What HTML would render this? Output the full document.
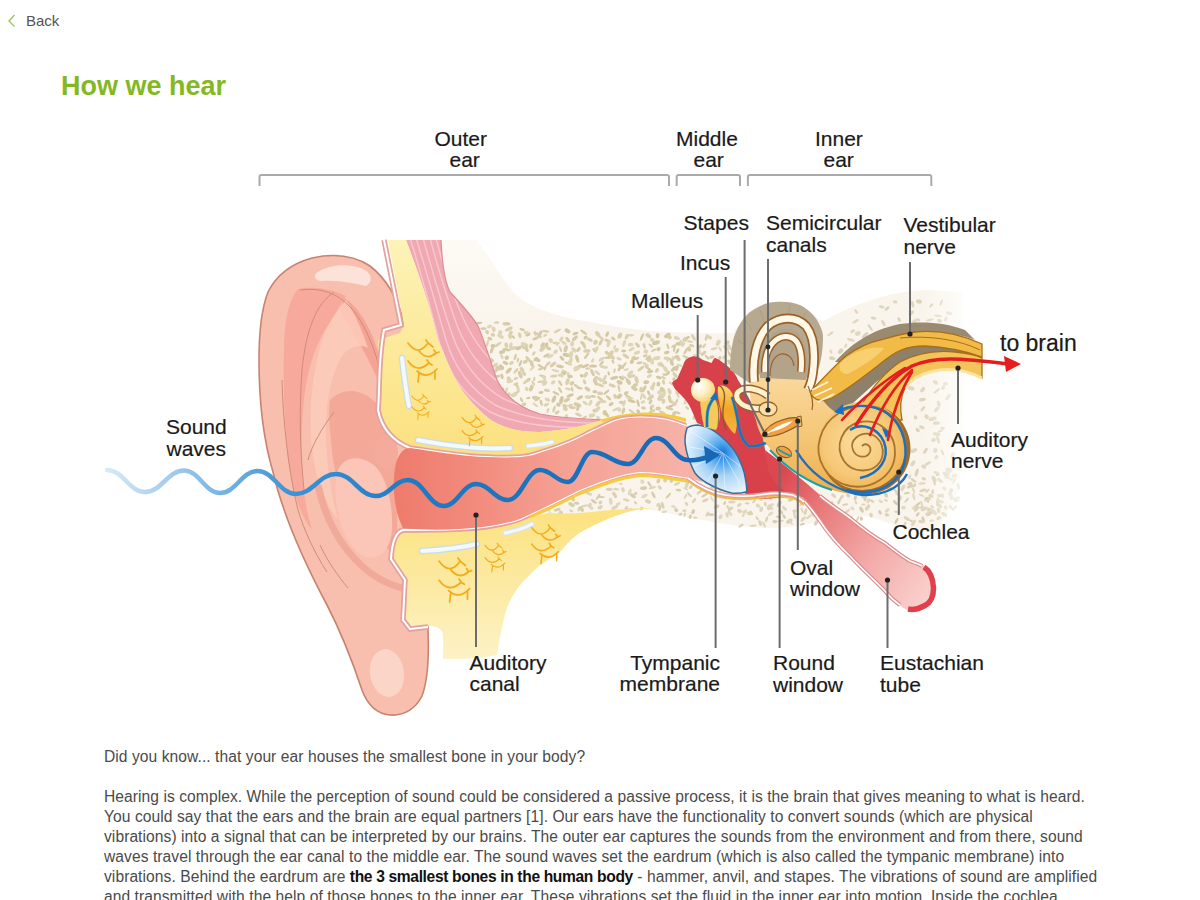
<!DOCTYPE html>
<html><head><meta charset="utf-8"><title>How we hear</title>
<style>
html,body{margin:0;padding:0;background:#fff;width:1200px;height:900px;overflow:hidden}
body{position:relative;font-family:"Liberation Sans",sans-serif}
#back{position:absolute;left:26px;top:12px;font-size:15px;color:#555;line-height:18px}
#chev{position:absolute;left:7px;top:13px}
h1{position:absolute;left:61px;top:69px;margin:0;font-size:27px;font-weight:bold;color:#85b820;line-height:34px;letter-spacing:0}
#art{position:absolute;left:0;top:0}
#txt{position:absolute;left:104px;top:747px;font-size:15.6px;line-height:20px;color:#4a4a4a;white-space:nowrap;letter-spacing:0.065px}
#txt p{margin:0 0 20px 0}
#txt b{color:#111;letter-spacing:-0.35px}
.lb{font-family:"Liberation Sans",sans-serif;font-size:21px;fill:#1a1a1a;stroke:#1a1a1a;stroke-width:0.2px}
</style></head><body>
<svg id="chev" width="10" height="16" viewBox="0 0 10 16"><path d="M7.5 2 L2 8 L7.5 13.5" fill="none" stroke="#a2c260" stroke-width="1.4"/></svg>
<div id="back">Back</div>
<h1>How we hear</h1>
<svg id="art" width="1200" height="900" viewBox="0 0 1200 900">
<defs>
<pattern id="spots" width="34" height="26" patternUnits="userSpaceOnUse" patternTransform="rotate(-15)">
<ellipse cx="4" cy="4" rx="3.6" ry="1.7" fill="#d6c8a2" transform="rotate(30 4 4)"/>
<ellipse cx="15" cy="6" rx="3" ry="1.5" fill="#d8cba6" transform="rotate(-20 15 6)"/>
<ellipse cx="26" cy="4" rx="3.4" ry="1.6" fill="#d4c69f" transform="rotate(50 26 4)"/>
<ellipse cx="9" cy="13" rx="3.2" ry="1.6" fill="#d8caa4" transform="rotate(-40 9 13)"/>
<ellipse cx="21" cy="14" rx="3.8" ry="1.7" fill="#d5c7a0" transform="rotate(15 21 14)"/>
<ellipse cx="31" cy="15" rx="2.6" ry="1.4" fill="#d9cca8" transform="rotate(-60 31 15)"/>
<ellipse cx="4" cy="21" rx="3" ry="1.5" fill="#d6c8a2" transform="rotate(70 4 21)"/>
<ellipse cx="15" cy="22" rx="3.4" ry="1.6" fill="#d8cba6" transform="rotate(10 15 22)"/>
<ellipse cx="27" cy="23" rx="3.2" ry="1.5" fill="#d4c69f" transform="rotate(-30 27 23)"/>
</pattern>
<linearGradient id="canalG" x1="395" x2="690" y1="0" y2="0" gradientUnits="userSpaceOnUse">
<stop offset="0" stop-color="#ee7b6c"/><stop offset="0.3" stop-color="#f28d7f"/><stop offset="0.6" stop-color="#f5a396"/><stop offset="1" stop-color="#f7b2a7"/>
</linearGradient>
<linearGradient id="yelG" x1="0" x2="0" y1="240" y2="460" gradientUnits="userSpaceOnUse">
<stop offset="0" stop-color="#fdf3b6"/><stop offset="1" stop-color="#fbe07e"/>
</linearGradient>
<linearGradient id="yelG2" x1="0" x2="0" y1="520" y2="660" gradientUnits="userSpaceOnUse">
<stop offset="0" stop-color="#fbe384"/><stop offset="1" stop-color="#fdf2c6"/>
</linearGradient>
<radialGradient id="tmG" cx="0.61" cy="0.41" r="0.62">
<stop offset="0" stop-color="#1474d6"/><stop offset="0.22" stop-color="#4aa2ee"/><stop offset="0.55" stop-color="#a8d4f6"/><stop offset="1" stop-color="#e6f3fd"/>
</radialGradient>
<linearGradient id="tubeG" x1="775" x2="930" y1="485" y2="600" gradientUnits="userSpaceOnUse">
<stop offset="0" stop-color="#dc4850"/><stop offset="0.25" stop-color="#e87878"/><stop offset="0.6" stop-color="#f3a8a6"/><stop offset="1" stop-color="#fad2ce"/>
</linearGradient>
<radialGradient id="cochG" cx="0.45" cy="0.45" r="0.6">
<stop offset="0" stop-color="#fbdc9c"/><stop offset="0.65" stop-color="#f6c878"/><stop offset="1" stop-color="#eeb04c"/>
</radialGradient>
<linearGradient id="waveG" x1="105" x2="720" y1="0" y2="0" gradientUnits="userSpaceOnUse">
<stop offset="0" stop-color="#d8eaf7"/><stop offset="0.12" stop-color="#9cc8ec"/><stop offset="0.3" stop-color="#3d94d6"/><stop offset="0.5" stop-color="#1f7ac4"/><stop offset="1" stop-color="#1767b4"/>
</linearGradient>
<linearGradient id="rbFade" x1="925" x2="975" y1="0" y2="0" gradientUnits="userSpaceOnUse">
<stop offset="0" stop-color="#fff" stop-opacity="0"/><stop offset="1" stop-color="#fff" stop-opacity="1"/>
</linearGradient>
<linearGradient id="boneTopG" x1="0" x2="0" y1="240" y2="340" gradientUnits="userSpaceOnUse">
<stop offset="0" stop-color="#fdfaf5"/><stop offset="1" stop-color="#f9f3ea"/>
</linearGradient>
<clipPath id="muscleClip"><path id="musP" d="M406 240 L441 240 C442 262 444 280 450 292 C462 305 472 316 478 326 C484 340 490 360 497 380 C505 396 520 408 540 414 C560 418 585 419 602 420 C590 424 570 430 540 432 C515 432 498 426 488 418 C472 404 462 392 456 380 C448 365 443 350 438 340 C430 305 418 272 406 240 Z"/></clipPath>
</defs>

<!-- pinna (behind head structures) -->
<path d="M404 322 C398 300 388 280 370 266 C355 256 335 253 312 258 C290 264 276 276 268 292 C261 310 259 335 259 360 C259 395 262 435 273 472 C283 515 303 560 327 605 C341 632 352 660 362 690 C368 706 378 714 390 715 C405 716 416 708 422 696 C428 680 429 655 428 630 L428 560 L410 470 L410 380 Z" fill="#f9bfae" stroke="#c8836e" stroke-width="1.6"/>
<!-- scapha + fossa darker band -->
<path d="M298 289 C312 286 330 288 346 296 C340 306 332 318 324 332 C316 346 310 362 306 385 C302 410 301 440 302 470 C303 490 306 510 312 530 C300 515 292 490 288 460 C284 420 283 380 284 345 C285 318 289 300 298 289 Z" fill="#f7a99c"/>
<!-- crus stripe -->
<path d="M344 298 C356 305 366 320 374 340 C380 356 384 375 385 395 C378 380 370 362 362 348 C354 334 346 322 340 312 Z" fill="#f4a394"/>
<!-- antihelix light ridge -->
<path d="M324 334 C332 318 340 308 346 300 C354 312 362 330 368 348 C360 344 350 346 342 356 C332 372 326 400 326 430 C326 460 330 490 338 520 C326 505 316 480 312 450 C308 415 312 370 324 334 Z" fill="#fdcbbb" opacity="0.85"/>
<!-- concha darker -->
<path d="M330 400 C345 385 365 390 378 405 C392 420 398 445 398 470 C398 500 396 530 398 560 C385 545 370 530 356 515 C342 498 334 475 332 450 C330 430 328 415 330 400 Z" fill="#f4a898"/>
<!-- concha bowl light -->
<path d="M338 470 C345 455 362 455 375 466 C388 480 393 505 392 530 C390 552 378 562 364 556 C348 548 338 525 336 500 C335 488 336 478 338 470 Z" fill="#fbc6b7"/>
<!-- antitragus crease -->
<path d="M318 485 C325 520 342 548 362 566 C375 578 390 586 410 590" fill="none" stroke="#eea292" stroke-width="7" opacity="0.75"/>
<!-- tragus bump -->
<ellipse cx="386" cy="452" rx="12" ry="16" fill="#f5ab9c"/>
<!-- rim lines -->
<g fill="none" stroke="#d28c78" stroke-width="1">
<path d="M334 292 C316 304 306 330 302 370 C299 410 300 450 304 490"/>
<path d="M300 290 C344 284 362 318 374 350 C382 372 384 395 383 415"/>
<path d="M282 380 C283 420 288 470 298 510 C304 530 314 552 327 572"/>
<path d="M334 412 C322 428 312 445 308 460"/>
<path d="M320 545 C328 562 338 576 348 588"/>
</g>
<!-- top highlight -->
<path d="M318 272 C330 264 350 263 365 270 C372 274 373 282 366 286 C350 282 334 280 320 281 C314 279 313 275 318 272 Z" fill="#fde2d9"/>
<ellipse cx="387" cy="673" rx="17" ry="24" fill="#fcd5c9" transform="rotate(-8 387 673)"/>

<!-- pale bone base -->
<path d="M420 240 L476 240 C484 250 492 262 500 274 C507 285 515 296 530 305 C545 312 565 318 590 322 C615 327 630 329 650 331 C690 333 715 334 732 333
 C745 318 760 304 782 302 C800 304 815 314 822 322 C850 306 885 292 925 290 L962 292 L965 360 L962 470
 C958 500 948 520 930 532 C900 532 880 516 860 516 C830 518 800 528 770 528 C740 528 715 522 690 518 C670 514 650 508 636 510 C615 515 598 522 578 534
 C560 548 548 556 538 566 L520 470 L440 400 Z" fill="#faf5ec"/>
<path d="M420 240 L476 240 C484 250 492 262 500 274 C507 285 515 296 530 305 C545 312 565 318 590 322 C615 327 630 329 650 331 L650 345 L440 345 Z" fill="url(#boneTopG)"/>
<!-- spotted areas -->
<g>
<ellipse cx="478.4" cy="323.1" rx="3.9" ry="1.2" transform="rotate(-8 478.4 323.1)" fill="#d4c8a3"/>
<ellipse cx="489.5" cy="326.5" rx="2.8" ry="1.5" transform="rotate(-23 489.5 326.5)" fill="#ded4b6"/>
<ellipse cx="496.5" cy="322.5" rx="2.7" ry="1.3" transform="rotate(-2 496.5 322.5)" fill="#dbd0ae"/>
<ellipse cx="506.5" cy="323.8" rx="4.1" ry="1.8" transform="rotate(2 506.5 323.8)" fill="#d7cba8"/>
<ellipse cx="483.4" cy="328.7" rx="3.1" ry="1.4" transform="rotate(-3 483.4 328.7)" fill="#d7cba8"/>
<ellipse cx="487.1" cy="332.1" rx="2.4" ry="1.8" transform="rotate(66 487.1 332.1)" fill="#dbd0ae"/>
<ellipse cx="493.7" cy="329.3" rx="2.9" ry="1.9" transform="rotate(75 493.7 329.3)" fill="#ded4b6"/>
<ellipse cx="500.2" cy="332.6" rx="2.5" ry="2.1" transform="rotate(-76 500.2 332.6)" fill="#ded4b6"/>
<ellipse cx="508.8" cy="329.1" rx="4.2" ry="1.8" transform="rotate(-24 508.8 329.1)" fill="#dbd0ae"/>
<ellipse cx="510.8" cy="333.0" rx="2.4" ry="1.8" transform="rotate(-58 510.8 333.0)" fill="#dbd0ae"/>
<ellipse cx="522.1" cy="329.5" rx="2.8" ry="1.3" transform="rotate(14 522.1 329.5)" fill="#d4c8a3"/>
<ellipse cx="527.1" cy="333.2" rx="3.7" ry="2.0" transform="rotate(26 527.1 333.2)" fill="#ded4b6"/>
<ellipse cx="535.3" cy="333.4" rx="2.5" ry="1.6" transform="rotate(60 535.3 333.4)" fill="#dbd0ae"/>
<ellipse cx="540.6" cy="332.8" rx="2.5" ry="1.7" transform="rotate(-61 540.6 332.8)" fill="#d7cba8"/>
<ellipse cx="545.6" cy="331.3" rx="3.8" ry="1.2" transform="rotate(10 545.6 331.3)" fill="#dbd0ae"/>
<ellipse cx="557.4" cy="330.9" rx="4.0" ry="1.2" transform="rotate(-28 557.4 330.9)" fill="#dbd0ae"/>
<ellipse cx="567.5" cy="330.9" rx="3.2" ry="2.0" transform="rotate(32 567.5 330.9)" fill="#d4c8a3"/>
<ellipse cx="575.5" cy="333.5" rx="3.1" ry="1.5" transform="rotate(-17 575.5 333.5)" fill="#d4c8a3"/>
<ellipse cx="583.7" cy="332.2" rx="4.0" ry="1.3" transform="rotate(35 583.7 332.2)" fill="#d4c8a3"/>
<ellipse cx="597.7" cy="333.9" rx="3.2" ry="2.1" transform="rotate(53 597.7 333.9)" fill="#dbd0ae"/>
<ellipse cx="607.2" cy="334.1" rx="3.0" ry="1.5" transform="rotate(-65 607.2 334.1)" fill="#d4c8a3"/>
<ellipse cx="478.4" cy="338.0" rx="2.4" ry="1.3" transform="rotate(-72 478.4 338.0)" fill="#dbd0ae"/>
<ellipse cx="489.8" cy="338.6" rx="2.6" ry="1.5" transform="rotate(28 489.8 338.6)" fill="#d4c8a3"/>
<ellipse cx="492.9" cy="334.9" rx="2.2" ry="1.8" transform="rotate(8 492.9 334.9)" fill="#dbd0ae"/>
<ellipse cx="500.5" cy="336.3" rx="3.5" ry="1.8" transform="rotate(25 500.5 336.3)" fill="#ded4b6"/>
<ellipse cx="509.8" cy="336.7" rx="2.7" ry="1.3" transform="rotate(61 509.8 336.7)" fill="#dbd0ae"/>
<ellipse cx="513.0" cy="336.9" rx="2.5" ry="1.2" transform="rotate(39 513.0 336.9)" fill="#d4c8a3"/>
<ellipse cx="519.8" cy="335.2" rx="3.0" ry="1.6" transform="rotate(75 519.8 335.2)" fill="#dbd0ae"/>
<ellipse cx="527.9" cy="335.1" rx="2.7" ry="1.1" transform="rotate(-22 527.9 335.1)" fill="#d4c8a3"/>
<ellipse cx="536.2" cy="338.1" rx="4.1" ry="1.4" transform="rotate(-23 536.2 338.1)" fill="#d7cba8"/>
<ellipse cx="539.0" cy="335.3" rx="3.5" ry="1.3" transform="rotate(44 539.0 335.3)" fill="#d7cba8"/>
<ellipse cx="545.2" cy="335.4" rx="2.3" ry="1.1" transform="rotate(-31 545.2 335.4)" fill="#dbd0ae"/>
<ellipse cx="550.7" cy="340.5" rx="2.5" ry="2.0" transform="rotate(45 550.7 340.5)" fill="#ded4b6"/>
<ellipse cx="561.4" cy="339.1" rx="2.8" ry="1.7" transform="rotate(-57 561.4 339.1)" fill="#ded4b6"/>
<ellipse cx="567.8" cy="339.7" rx="3.2" ry="1.6" transform="rotate(54 567.8 339.7)" fill="#d7cba8"/>
<ellipse cx="574.9" cy="338.3" rx="3.6" ry="1.8" transform="rotate(-43 574.9 338.3)" fill="#d7cba8"/>
<ellipse cx="585.5" cy="337.5" rx="2.2" ry="1.6" transform="rotate(-41 585.5 337.5)" fill="#d4c8a3"/>
<ellipse cx="589.8" cy="339.6" rx="3.2" ry="1.6" transform="rotate(25 589.8 339.6)" fill="#d7cba8"/>
<ellipse cx="600.9" cy="337.6" rx="3.9" ry="1.3" transform="rotate(41 600.9 337.6)" fill="#dbd0ae"/>
<ellipse cx="607.4" cy="340.6" rx="3.0" ry="1.6" transform="rotate(29 607.4 340.6)" fill="#d7cba8"/>
<ellipse cx="613.3" cy="338.6" rx="2.5" ry="1.4" transform="rotate(39 613.3 338.6)" fill="#d4c8a3"/>
<ellipse cx="619.9" cy="335.6" rx="3.2" ry="2.1" transform="rotate(-64 619.9 335.6)" fill="#dbd0ae"/>
<ellipse cx="626.8" cy="336.6" rx="3.1" ry="1.6" transform="rotate(-61 626.8 336.6)" fill="#dbd0ae"/>
<ellipse cx="631.3" cy="335.3" rx="2.8" ry="1.2" transform="rotate(1 631.3 335.3)" fill="#ded4b6"/>
<ellipse cx="641.9" cy="337.1" rx="4.1" ry="1.2" transform="rotate(-66 641.9 337.1)" fill="#d4c8a3"/>
<ellipse cx="648.3" cy="335.6" rx="3.2" ry="2.0" transform="rotate(33 648.3 335.6)" fill="#dbd0ae"/>
<ellipse cx="652.2" cy="340.0" rx="2.5" ry="2.0" transform="rotate(29 652.2 340.0)" fill="#ded4b6"/>
<ellipse cx="657.6" cy="335.7" rx="2.8" ry="1.9" transform="rotate(-80 657.6 335.7)" fill="#d4c8a3"/>
<ellipse cx="667.4" cy="335.5" rx="3.6" ry="2.0" transform="rotate(-34 667.4 335.5)" fill="#d4c8a3"/>
<ellipse cx="669.4" cy="337.1" rx="2.4" ry="2.0" transform="rotate(41 669.4 337.1)" fill="#d7cba8"/>
<ellipse cx="686.2" cy="338.6" rx="4.1" ry="1.5" transform="rotate(-30 686.2 338.6)" fill="#d4c8a3"/>
<ellipse cx="693.5" cy="337.4" rx="3.7" ry="1.5" transform="rotate(60 693.5 337.4)" fill="#dbd0ae"/>
<ellipse cx="706.4" cy="337.5" rx="3.5" ry="1.4" transform="rotate(-72 706.4 337.5)" fill="#dbd0ae"/>
<ellipse cx="709.6" cy="337.3" rx="2.7" ry="1.8" transform="rotate(24 709.6 337.3)" fill="#ded4b6"/>
<ellipse cx="483.0" cy="347.3" rx="2.5" ry="1.3" transform="rotate(-65 483.0 347.3)" fill="#d4c8a3"/>
<ellipse cx="487.5" cy="343.3" rx="3.8" ry="1.3" transform="rotate(-77 487.5 343.3)" fill="#ded4b6"/>
<ellipse cx="493.1" cy="345.9" rx="2.7" ry="1.9" transform="rotate(-0 493.1 345.9)" fill="#d4c8a3"/>
<ellipse cx="498.2" cy="344.4" rx="3.9" ry="1.3" transform="rotate(-37 498.2 344.4)" fill="#dbd0ae"/>
<ellipse cx="506.3" cy="345.3" rx="2.8" ry="1.9" transform="rotate(75 506.3 345.3)" fill="#dbd0ae"/>
<ellipse cx="510.8" cy="345.6" rx="3.1" ry="1.7" transform="rotate(-80 510.8 345.6)" fill="#ded4b6"/>
<ellipse cx="522.8" cy="346.9" rx="3.1" ry="1.5" transform="rotate(45 522.8 346.9)" fill="#dbd0ae"/>
<ellipse cx="524.7" cy="344.5" rx="4.1" ry="1.8" transform="rotate(24 524.7 344.5)" fill="#ded4b6"/>
<ellipse cx="530.9" cy="346.0" rx="2.5" ry="1.7" transform="rotate(-74 530.9 346.0)" fill="#d4c8a3"/>
<ellipse cx="542.7" cy="345.2" rx="3.1" ry="1.9" transform="rotate(-64 542.7 345.2)" fill="#d4c8a3"/>
<ellipse cx="546.7" cy="344.9" rx="2.6" ry="1.7" transform="rotate(-78 546.7 344.9)" fill="#d4c8a3"/>
<ellipse cx="556.1" cy="343.1" rx="3.9" ry="1.3" transform="rotate(4 556.1 343.1)" fill="#dbd0ae"/>
<ellipse cx="557.0" cy="343.9" rx="2.3" ry="1.3" transform="rotate(62 557.0 343.9)" fill="#ded4b6"/>
<ellipse cx="563.9" cy="342.8" rx="2.9" ry="1.6" transform="rotate(31 563.9 342.8)" fill="#ded4b6"/>
<ellipse cx="572.2" cy="343.8" rx="2.8" ry="1.9" transform="rotate(-69 572.2 343.8)" fill="#ded4b6"/>
<ellipse cx="582.4" cy="343.3" rx="2.7" ry="1.3" transform="rotate(42 582.4 343.3)" fill="#d4c8a3"/>
<ellipse cx="583.9" cy="345.1" rx="4.0" ry="1.6" transform="rotate(66 583.9 345.1)" fill="#d7cba8"/>
<ellipse cx="595.5" cy="342.3" rx="2.6" ry="2.1" transform="rotate(-57 595.5 342.3)" fill="#d7cba8"/>
<ellipse cx="600.6" cy="342.5" rx="3.6" ry="1.4" transform="rotate(-62 600.6 342.5)" fill="#d7cba8"/>
<ellipse cx="608.6" cy="343.4" rx="4.1" ry="1.8" transform="rotate(-75 608.6 343.4)" fill="#ded4b6"/>
<ellipse cx="614.6" cy="347.3" rx="2.4" ry="1.2" transform="rotate(-67 614.6 347.3)" fill="#ded4b6"/>
<ellipse cx="624.1" cy="343.5" rx="3.8" ry="1.5" transform="rotate(-72 624.1 343.5)" fill="#ded4b6"/>
<ellipse cx="630.6" cy="344.6" rx="2.8" ry="1.8" transform="rotate(-4 630.6 344.6)" fill="#ded4b6"/>
<ellipse cx="637.5" cy="345.1" rx="3.0" ry="1.6" transform="rotate(49 637.5 345.1)" fill="#d7cba8"/>
<ellipse cx="644.2" cy="345.9" rx="2.9" ry="1.4" transform="rotate(73 644.2 345.9)" fill="#d7cba8"/>
<ellipse cx="650.8" cy="345.7" rx="2.8" ry="1.1" transform="rotate(41 650.8 345.7)" fill="#d7cba8"/>
<ellipse cx="656.0" cy="342.8" rx="4.1" ry="2.1" transform="rotate(-18 656.0 342.8)" fill="#d4c8a3"/>
<ellipse cx="667.9" cy="346.3" rx="3.2" ry="1.1" transform="rotate(69 667.9 346.3)" fill="#d4c8a3"/>
<ellipse cx="673.9" cy="346.0" rx="2.9" ry="1.4" transform="rotate(-22 673.9 346.0)" fill="#d7cba8"/>
<ellipse cx="678.7" cy="343.8" rx="3.0" ry="1.7" transform="rotate(-3 678.7 343.8)" fill="#d4c8a3"/>
<ellipse cx="683.2" cy="344.0" rx="2.3" ry="1.7" transform="rotate(-47 683.2 344.0)" fill="#ded4b6"/>
<ellipse cx="691.8" cy="345.6" rx="2.7" ry="1.5" transform="rotate(19 691.8 345.6)" fill="#dbd0ae"/>
<ellipse cx="699.9" cy="346.5" rx="2.4" ry="1.9" transform="rotate(-33 699.9 346.5)" fill="#d4c8a3"/>
<ellipse cx="704.2" cy="345.8" rx="2.7" ry="1.3" transform="rotate(-55 704.2 345.8)" fill="#dbd0ae"/>
<ellipse cx="718.2" cy="342.8" rx="3.5" ry="2.1" transform="rotate(-64 718.2 342.8)" fill="#ded4b6"/>
<ellipse cx="727.1" cy="342.8" rx="2.9" ry="2.0" transform="rotate(-43 727.1 342.8)" fill="#d7cba8"/>
<ellipse cx="729.6" cy="347.2" rx="4.1" ry="1.5" transform="rotate(59 729.6 347.2)" fill="#ded4b6"/>
<ellipse cx="481.4" cy="352.2" rx="2.3" ry="1.4" transform="rotate(-73 481.4 352.2)" fill="#d4c8a3"/>
<ellipse cx="484.5" cy="352.4" rx="3.8" ry="1.9" transform="rotate(-15 484.5 352.4)" fill="#d4c8a3"/>
<ellipse cx="491.9" cy="349.9" rx="3.8" ry="1.6" transform="rotate(-70 491.9 349.9)" fill="#d7cba8"/>
<ellipse cx="502.2" cy="352.0" rx="3.3" ry="1.8" transform="rotate(-16 502.2 352.0)" fill="#d4c8a3"/>
<ellipse cx="506.5" cy="349.7" rx="4.1" ry="1.4" transform="rotate(11 506.5 349.7)" fill="#d4c8a3"/>
<ellipse cx="513.1" cy="348.1" rx="3.8" ry="1.7" transform="rotate(-17 513.1 348.1)" fill="#ded4b6"/>
<ellipse cx="518.4" cy="348.1" rx="3.0" ry="1.9" transform="rotate(-15 518.4 348.1)" fill="#d4c8a3"/>
<ellipse cx="526.6" cy="349.0" rx="3.3" ry="1.7" transform="rotate(66 526.6 349.0)" fill="#d7cba8"/>
<ellipse cx="533.8" cy="353.5" rx="2.5" ry="1.4" transform="rotate(-54 533.8 353.5)" fill="#dbd0ae"/>
<ellipse cx="542.5" cy="348.7" rx="3.8" ry="2.1" transform="rotate(-48 542.5 348.7)" fill="#dbd0ae"/>
<ellipse cx="548.6" cy="348.3" rx="2.8" ry="1.7" transform="rotate(22 548.6 348.3)" fill="#d7cba8"/>
<ellipse cx="555.6" cy="351.7" rx="2.5" ry="1.9" transform="rotate(-44 555.6 351.7)" fill="#ded4b6"/>
<ellipse cx="560.5" cy="349.2" rx="3.3" ry="1.1" transform="rotate(70 560.5 349.2)" fill="#dbd0ae"/>
<ellipse cx="565.7" cy="348.8" rx="3.6" ry="2.0" transform="rotate(-73 565.7 348.8)" fill="#d7cba8"/>
<ellipse cx="574.0" cy="350.0" rx="3.1" ry="1.9" transform="rotate(44 574.0 350.0)" fill="#ded4b6"/>
<ellipse cx="578.5" cy="349.5" rx="2.9" ry="1.6" transform="rotate(-51 578.5 349.5)" fill="#d7cba8"/>
<ellipse cx="586.9" cy="350.9" rx="3.7" ry="1.9" transform="rotate(-7 586.9 350.9)" fill="#dbd0ae"/>
<ellipse cx="594.6" cy="350.4" rx="2.9" ry="1.5" transform="rotate(48 594.6 350.4)" fill="#d7cba8"/>
<ellipse cx="596.7" cy="348.8" rx="2.8" ry="1.8" transform="rotate(-67 596.7 348.8)" fill="#ded4b6"/>
<ellipse cx="606.9" cy="352.7" rx="2.3" ry="1.7" transform="rotate(31 606.9 352.7)" fill="#d7cba8"/>
<ellipse cx="610.8" cy="353.9" rx="4.1" ry="2.0" transform="rotate(-54 610.8 353.9)" fill="#dbd0ae"/>
<ellipse cx="616.6" cy="350.1" rx="2.5" ry="2.0" transform="rotate(-36 616.6 350.1)" fill="#ded4b6"/>
<ellipse cx="623.7" cy="351.0" rx="2.6" ry="1.4" transform="rotate(1 623.7 351.0)" fill="#d4c8a3"/>
<ellipse cx="631.6" cy="349.2" rx="3.5" ry="1.4" transform="rotate(-28 631.6 349.2)" fill="#ded4b6"/>
<ellipse cx="637.0" cy="352.7" rx="3.3" ry="1.7" transform="rotate(-22 637.0 352.7)" fill="#ded4b6"/>
<ellipse cx="645.9" cy="351.5" rx="2.4" ry="2.1" transform="rotate(21 645.9 351.5)" fill="#ded4b6"/>
<ellipse cx="653.6" cy="350.2" rx="2.9" ry="1.2" transform="rotate(-27 653.6 350.2)" fill="#d7cba8"/>
<ellipse cx="658.5" cy="349.1" rx="2.3" ry="1.9" transform="rotate(-39 658.5 349.1)" fill="#d4c8a3"/>
<ellipse cx="666.8" cy="352.5" rx="2.8" ry="1.7" transform="rotate(-13 666.8 352.5)" fill="#d4c8a3"/>
<ellipse cx="674.3" cy="348.8" rx="3.5" ry="1.1" transform="rotate(-80 674.3 348.8)" fill="#d4c8a3"/>
<ellipse cx="677.4" cy="351.1" rx="3.0" ry="1.4" transform="rotate(-59 677.4 351.1)" fill="#d4c8a3"/>
<ellipse cx="685.9" cy="350.9" rx="4.1" ry="1.3" transform="rotate(-56 685.9 350.9)" fill="#d7cba8"/>
<ellipse cx="689.2" cy="348.9" rx="2.7" ry="1.9" transform="rotate(75 689.2 348.9)" fill="#d7cba8"/>
<ellipse cx="699.3" cy="351.4" rx="3.5" ry="1.5" transform="rotate(70 699.3 351.4)" fill="#ded4b6"/>
<ellipse cx="703.5" cy="353.4" rx="3.3" ry="1.5" transform="rotate(-42 703.5 353.4)" fill="#d7cba8"/>
<ellipse cx="714.0" cy="348.7" rx="3.5" ry="1.3" transform="rotate(-14 714.0 348.7)" fill="#ded4b6"/>
<ellipse cx="720.1" cy="349.1" rx="2.8" ry="1.1" transform="rotate(62 720.1 349.1)" fill="#ded4b6"/>
<ellipse cx="726.1" cy="348.1" rx="3.7" ry="1.6" transform="rotate(39 726.1 348.1)" fill="#ded4b6"/>
<ellipse cx="729.5" cy="353.9" rx="3.5" ry="1.2" transform="rotate(63 729.5 353.9)" fill="#d4c8a3"/>
<ellipse cx="492.1" cy="359.9" rx="2.7" ry="1.3" transform="rotate(39 492.1 359.9)" fill="#dbd0ae"/>
<ellipse cx="501.9" cy="356.6" rx="2.9" ry="1.3" transform="rotate(65 501.9 356.6)" fill="#ded4b6"/>
<ellipse cx="506.8" cy="357.8" rx="2.3" ry="2.1" transform="rotate(-43 506.8 357.8)" fill="#d4c8a3"/>
<ellipse cx="515.3" cy="357.0" rx="3.3" ry="1.3" transform="rotate(-75 515.3 357.0)" fill="#d7cba8"/>
<ellipse cx="517.9" cy="360.1" rx="2.5" ry="1.1" transform="rotate(-73 517.9 360.1)" fill="#d7cba8"/>
<ellipse cx="528.0" cy="359.0" rx="3.4" ry="1.5" transform="rotate(51 528.0 359.0)" fill="#d7cba8"/>
<ellipse cx="535.7" cy="359.1" rx="3.0" ry="1.3" transform="rotate(-47 535.7 359.1)" fill="#d7cba8"/>
<ellipse cx="537.2" cy="359.7" rx="3.5" ry="1.9" transform="rotate(21 537.2 359.7)" fill="#d4c8a3"/>
<ellipse cx="546.5" cy="355.4" rx="3.5" ry="1.4" transform="rotate(-26 546.5 355.4)" fill="#d4c8a3"/>
<ellipse cx="550.4" cy="356.2" rx="3.6" ry="1.5" transform="rotate(-29 550.4 356.2)" fill="#ded4b6"/>
<ellipse cx="561.9" cy="358.3" rx="3.0" ry="1.5" transform="rotate(44 561.9 358.3)" fill="#d4c8a3"/>
<ellipse cx="566.2" cy="354.9" rx="3.6" ry="1.9" transform="rotate(12 566.2 354.9)" fill="#d4c8a3"/>
<ellipse cx="571.0" cy="354.6" rx="3.7" ry="2.1" transform="rotate(-79 571.0 354.6)" fill="#ded4b6"/>
<ellipse cx="577.2" cy="358.8" rx="4.1" ry="1.7" transform="rotate(73 577.2 358.8)" fill="#d4c8a3"/>
<ellipse cx="586.7" cy="355.6" rx="4.1" ry="1.3" transform="rotate(-53 586.7 355.6)" fill="#d7cba8"/>
<ellipse cx="592.7" cy="360.5" rx="2.4" ry="1.4" transform="rotate(-65 592.7 360.5)" fill="#ded4b6"/>
<ellipse cx="601.7" cy="359.1" rx="3.5" ry="1.5" transform="rotate(-31 601.7 359.1)" fill="#ded4b6"/>
<ellipse cx="608.4" cy="357.6" rx="4.0" ry="1.3" transform="rotate(-6 608.4 357.6)" fill="#d7cba8"/>
<ellipse cx="611.7" cy="356.6" rx="3.9" ry="1.8" transform="rotate(39 611.7 356.6)" fill="#dbd0ae"/>
<ellipse cx="619.0" cy="358.7" rx="2.7" ry="1.4" transform="rotate(23 619.0 358.7)" fill="#dbd0ae"/>
<ellipse cx="625.8" cy="356.2" rx="3.9" ry="1.7" transform="rotate(36 625.8 356.2)" fill="#dbd0ae"/>
<ellipse cx="633.7" cy="358.2" rx="2.7" ry="2.1" transform="rotate(-39 633.7 358.2)" fill="#d7cba8"/>
<ellipse cx="637.0" cy="358.5" rx="2.5" ry="1.2" transform="rotate(-32 637.0 358.5)" fill="#d4c8a3"/>
<ellipse cx="645.2" cy="355.8" rx="2.4" ry="1.3" transform="rotate(-18 645.2 355.8)" fill="#d7cba8"/>
<ellipse cx="649.3" cy="359.7" rx="2.6" ry="2.1" transform="rotate(-33 649.3 359.7)" fill="#d7cba8"/>
<ellipse cx="656.7" cy="358.2" rx="3.7" ry="2.0" transform="rotate(-11 656.7 358.2)" fill="#ded4b6"/>
<ellipse cx="667.5" cy="358.6" rx="4.0" ry="1.7" transform="rotate(13 667.5 358.6)" fill="#dbd0ae"/>
<ellipse cx="673.1" cy="358.4" rx="2.8" ry="1.7" transform="rotate(-64 673.1 358.4)" fill="#ded4b6"/>
<ellipse cx="677.1" cy="357.0" rx="2.5" ry="1.9" transform="rotate(-3 677.1 357.0)" fill="#d7cba8"/>
<ellipse cx="685.9" cy="357.1" rx="4.1" ry="1.3" transform="rotate(25 685.9 357.1)" fill="#d7cba8"/>
<ellipse cx="695.7" cy="357.9" rx="3.8" ry="2.0" transform="rotate(3 695.7 357.9)" fill="#d7cba8"/>
<ellipse cx="707.1" cy="357.3" rx="3.2" ry="1.1" transform="rotate(47 707.1 357.3)" fill="#d4c8a3"/>
<ellipse cx="711.7" cy="357.1" rx="2.6" ry="1.8" transform="rotate(-17 711.7 357.1)" fill="#d7cba8"/>
<ellipse cx="719.6" cy="358.3" rx="2.7" ry="1.5" transform="rotate(-70 719.6 358.3)" fill="#d7cba8"/>
<ellipse cx="724.3" cy="357.1" rx="2.9" ry="1.4" transform="rotate(-44 724.3 357.1)" fill="#ded4b6"/>
<ellipse cx="734.0" cy="357.8" rx="3.8" ry="1.5" transform="rotate(-46 734.0 357.8)" fill="#dbd0ae"/>
<ellipse cx="489.1" cy="362.1" rx="3.9" ry="1.9" transform="rotate(-14 489.1 362.1)" fill="#d4c8a3"/>
<ellipse cx="495.3" cy="365.1" rx="3.1" ry="1.9" transform="rotate(-43 495.3 365.1)" fill="#ded4b6"/>
<ellipse cx="501.5" cy="367.1" rx="3.2" ry="1.9" transform="rotate(48 501.5 367.1)" fill="#d4c8a3"/>
<ellipse cx="505.5" cy="363.0" rx="3.1" ry="1.7" transform="rotate(25 505.5 363.0)" fill="#d4c8a3"/>
<ellipse cx="511.5" cy="363.0" rx="2.4" ry="1.7" transform="rotate(-28 511.5 363.0)" fill="#dbd0ae"/>
<ellipse cx="520.4" cy="363.3" rx="3.5" ry="1.3" transform="rotate(-68 520.4 363.3)" fill="#d4c8a3"/>
<ellipse cx="525.3" cy="361.8" rx="2.7" ry="1.9" transform="rotate(-25 525.3 361.8)" fill="#dbd0ae"/>
<ellipse cx="531.7" cy="363.6" rx="3.4" ry="1.8" transform="rotate(76 531.7 363.6)" fill="#d7cba8"/>
<ellipse cx="541.0" cy="366.5" rx="3.9" ry="1.3" transform="rotate(31 541.0 366.5)" fill="#d7cba8"/>
<ellipse cx="548.0" cy="363.8" rx="3.3" ry="1.4" transform="rotate(-43 548.0 363.8)" fill="#dbd0ae"/>
<ellipse cx="553.0" cy="364.5" rx="4.0" ry="1.8" transform="rotate(-41 553.0 364.5)" fill="#dbd0ae"/>
<ellipse cx="560.0" cy="366.4" rx="3.9" ry="1.6" transform="rotate(10 560.0 366.4)" fill="#d4c8a3"/>
<ellipse cx="568.4" cy="363.5" rx="4.1" ry="1.2" transform="rotate(22 568.4 363.5)" fill="#d7cba8"/>
<ellipse cx="570.2" cy="361.5" rx="4.2" ry="1.9" transform="rotate(-65 570.2 361.5)" fill="#ded4b6"/>
<ellipse cx="579.5" cy="366.6" rx="3.6" ry="1.7" transform="rotate(-26 579.5 366.6)" fill="#d4c8a3"/>
<ellipse cx="585.3" cy="365.9" rx="4.0" ry="1.4" transform="rotate(-25 585.3 365.9)" fill="#d4c8a3"/>
<ellipse cx="593.1" cy="366.1" rx="3.9" ry="1.5" transform="rotate(1 593.1 366.1)" fill="#d4c8a3"/>
<ellipse cx="601.6" cy="363.3" rx="3.2" ry="1.2" transform="rotate(-49 601.6 363.3)" fill="#d4c8a3"/>
<ellipse cx="603.8" cy="367.0" rx="4.2" ry="1.5" transform="rotate(9 603.8 367.0)" fill="#ded4b6"/>
<ellipse cx="612.9" cy="361.5" rx="2.2" ry="1.3" transform="rotate(67 612.9 361.5)" fill="#d7cba8"/>
<ellipse cx="620.9" cy="366.6" rx="3.4" ry="1.7" transform="rotate(31 620.9 366.6)" fill="#d7cba8"/>
<ellipse cx="624.1" cy="365.2" rx="3.7" ry="1.2" transform="rotate(-51 624.1 365.2)" fill="#d7cba8"/>
<ellipse cx="631.9" cy="361.8" rx="2.2" ry="2.0" transform="rotate(-58 631.9 361.8)" fill="#d4c8a3"/>
<ellipse cx="639.4" cy="362.8" rx="3.0" ry="1.4" transform="rotate(-11 639.4 362.8)" fill="#d7cba8"/>
<ellipse cx="645.6" cy="364.3" rx="3.7" ry="1.5" transform="rotate(31 645.6 364.3)" fill="#ded4b6"/>
<ellipse cx="651.9" cy="361.3" rx="3.4" ry="2.0" transform="rotate(77 651.9 361.3)" fill="#ded4b6"/>
<ellipse cx="660.4" cy="364.5" rx="3.1" ry="2.0" transform="rotate(20 660.4 364.5)" fill="#ded4b6"/>
<ellipse cx="662.5" cy="365.3" rx="4.1" ry="1.2" transform="rotate(59 662.5 365.3)" fill="#dbd0ae"/>
<ellipse cx="671.8" cy="362.9" rx="3.1" ry="1.8" transform="rotate(68 671.8 362.9)" fill="#d4c8a3"/>
<ellipse cx="680.2" cy="365.5" rx="3.7" ry="1.2" transform="rotate(21 680.2 365.5)" fill="#ded4b6"/>
<ellipse cx="685.0" cy="366.8" rx="4.1" ry="1.8" transform="rotate(-78 685.0 366.8)" fill="#d7cba8"/>
<ellipse cx="694.1" cy="365.3" rx="3.0" ry="1.4" transform="rotate(16 694.1 365.3)" fill="#ded4b6"/>
<ellipse cx="699.0" cy="363.1" rx="3.7" ry="1.6" transform="rotate(-53 699.0 363.1)" fill="#d7cba8"/>
<ellipse cx="704.2" cy="365.1" rx="3.0" ry="1.5" transform="rotate(46 704.2 365.1)" fill="#d4c8a3"/>
<ellipse cx="713.3" cy="364.6" rx="2.3" ry="2.1" transform="rotate(33 713.3 364.6)" fill="#d4c8a3"/>
<ellipse cx="720.4" cy="365.5" rx="2.5" ry="1.9" transform="rotate(14 720.4 365.5)" fill="#dbd0ae"/>
<ellipse cx="724.1" cy="365.3" rx="4.0" ry="1.9" transform="rotate(-35 724.1 365.3)" fill="#d7cba8"/>
<ellipse cx="730.3" cy="362.8" rx="4.0" ry="1.9" transform="rotate(45 730.3 362.8)" fill="#d4c8a3"/>
<ellipse cx="496.3" cy="369.9" rx="3.3" ry="1.9" transform="rotate(-48 496.3 369.9)" fill="#dbd0ae"/>
<ellipse cx="499.3" cy="368.2" rx="3.6" ry="2.0" transform="rotate(14 499.3 368.2)" fill="#d7cba8"/>
<ellipse cx="508.7" cy="370.6" rx="3.8" ry="1.9" transform="rotate(-43 508.7 370.6)" fill="#d4c8a3"/>
<ellipse cx="515.9" cy="370.9" rx="3.4" ry="1.3" transform="rotate(-49 515.9 370.9)" fill="#dbd0ae"/>
<ellipse cx="522.0" cy="369.6" rx="2.9" ry="1.9" transform="rotate(57 522.0 369.6)" fill="#dbd0ae"/>
<ellipse cx="524.1" cy="373.8" rx="2.4" ry="1.7" transform="rotate(46 524.1 373.8)" fill="#dbd0ae"/>
<ellipse cx="532.3" cy="368.0" rx="3.4" ry="1.2" transform="rotate(-47 532.3 368.0)" fill="#ded4b6"/>
<ellipse cx="540.5" cy="369.1" rx="2.8" ry="1.2" transform="rotate(-9 540.5 369.1)" fill="#dbd0ae"/>
<ellipse cx="545.1" cy="368.1" rx="2.6" ry="1.2" transform="rotate(-72 545.1 368.1)" fill="#d4c8a3"/>
<ellipse cx="555.4" cy="370.6" rx="4.0" ry="1.2" transform="rotate(16 555.4 370.6)" fill="#ded4b6"/>
<ellipse cx="562.3" cy="372.0" rx="2.8" ry="1.3" transform="rotate(-66 562.3 372.0)" fill="#ded4b6"/>
<ellipse cx="564.5" cy="372.9" rx="2.7" ry="1.8" transform="rotate(-52 564.5 372.9)" fill="#d4c8a3"/>
<ellipse cx="575.6" cy="368.2" rx="2.3" ry="2.0" transform="rotate(-39 575.6 368.2)" fill="#ded4b6"/>
<ellipse cx="577.0" cy="368.7" rx="4.1" ry="1.8" transform="rotate(-32 577.0 368.7)" fill="#ded4b6"/>
<ellipse cx="587.7" cy="368.5" rx="2.7" ry="1.2" transform="rotate(-3 587.7 368.5)" fill="#dbd0ae"/>
<ellipse cx="592.5" cy="372.6" rx="4.0" ry="1.6" transform="rotate(66 592.5 372.6)" fill="#d7cba8"/>
<ellipse cx="597.4" cy="372.8" rx="3.4" ry="1.5" transform="rotate(40 597.4 372.8)" fill="#ded4b6"/>
<ellipse cx="608.7" cy="373.3" rx="2.2" ry="1.2" transform="rotate(76 608.7 373.3)" fill="#d4c8a3"/>
<ellipse cx="614.5" cy="370.7" rx="2.5" ry="1.3" transform="rotate(-71 614.5 370.7)" fill="#ded4b6"/>
<ellipse cx="619.5" cy="368.7" rx="2.7" ry="1.5" transform="rotate(-55 619.5 368.7)" fill="#d4c8a3"/>
<ellipse cx="626.2" cy="369.6" rx="2.7" ry="1.2" transform="rotate(-7 626.2 369.6)" fill="#ded4b6"/>
<ellipse cx="630.1" cy="373.6" rx="4.0" ry="1.8" transform="rotate(-46 630.1 373.6)" fill="#ded4b6"/>
<ellipse cx="641.0" cy="368.5" rx="4.1" ry="1.5" transform="rotate(-38 641.0 368.5)" fill="#dbd0ae"/>
<ellipse cx="648.1" cy="368.4" rx="4.0" ry="1.2" transform="rotate(36 648.1 368.4)" fill="#d4c8a3"/>
<ellipse cx="650.1" cy="371.6" rx="3.2" ry="1.6" transform="rotate(-9 650.1 371.6)" fill="#d4c8a3"/>
<ellipse cx="656.9" cy="370.4" rx="2.6" ry="1.7" transform="rotate(-58 656.9 370.4)" fill="#dbd0ae"/>
<ellipse cx="665.5" cy="369.2" rx="3.4" ry="1.9" transform="rotate(62 665.5 369.2)" fill="#ded4b6"/>
<ellipse cx="673.6" cy="368.9" rx="3.5" ry="1.7" transform="rotate(-49 673.6 368.9)" fill="#d4c8a3"/>
<ellipse cx="676.8" cy="368.2" rx="3.0" ry="1.8" transform="rotate(-71 676.8 368.2)" fill="#d4c8a3"/>
<ellipse cx="684.2" cy="372.8" rx="3.2" ry="1.1" transform="rotate(66 684.2 372.8)" fill="#ded4b6"/>
<ellipse cx="689.6" cy="371.8" rx="3.3" ry="2.1" transform="rotate(-74 689.6 371.8)" fill="#d4c8a3"/>
<ellipse cx="698.8" cy="372.9" rx="4.1" ry="2.1" transform="rotate(-69 698.8 372.9)" fill="#d4c8a3"/>
<ellipse cx="706.3" cy="372.7" rx="2.8" ry="1.8" transform="rotate(-19 706.3 372.7)" fill="#d7cba8"/>
<ellipse cx="710.4" cy="368.5" rx="3.1" ry="1.1" transform="rotate(49 710.4 368.5)" fill="#dbd0ae"/>
<ellipse cx="715.4" cy="373.6" rx="2.6" ry="1.2" transform="rotate(-40 715.4 373.6)" fill="#d7cba8"/>
<ellipse cx="721.9" cy="373.3" rx="2.7" ry="1.9" transform="rotate(22 721.9 373.3)" fill="#ded4b6"/>
<ellipse cx="731.5" cy="372.0" rx="3.9" ry="1.8" transform="rotate(-73 731.5 372.0)" fill="#d7cba8"/>
<ellipse cx="737.8" cy="371.3" rx="2.4" ry="1.2" transform="rotate(62 737.8 371.3)" fill="#dbd0ae"/>
<ellipse cx="496.4" cy="376.7" rx="3.9" ry="1.6" transform="rotate(-17 496.4 376.7)" fill="#d7cba8"/>
<ellipse cx="502.0" cy="376.4" rx="2.9" ry="1.5" transform="rotate(77 502.0 376.4)" fill="#d4c8a3"/>
<ellipse cx="508.9" cy="379.5" rx="3.2" ry="2.1" transform="rotate(69 508.9 379.5)" fill="#dbd0ae"/>
<ellipse cx="515.8" cy="378.4" rx="2.4" ry="1.3" transform="rotate(-28 515.8 378.4)" fill="#dbd0ae"/>
<ellipse cx="520.2" cy="374.6" rx="4.1" ry="1.9" transform="rotate(70 520.2 374.6)" fill="#d7cba8"/>
<ellipse cx="528.6" cy="379.7" rx="2.3" ry="1.7" transform="rotate(-37 528.6 379.7)" fill="#d4c8a3"/>
<ellipse cx="534.2" cy="379.2" rx="2.4" ry="1.2" transform="rotate(-78 534.2 379.2)" fill="#dbd0ae"/>
<ellipse cx="542.7" cy="376.1" rx="3.5" ry="1.2" transform="rotate(15 542.7 376.1)" fill="#d4c8a3"/>
<ellipse cx="544.1" cy="377.9" rx="3.1" ry="1.6" transform="rotate(62 544.1 377.9)" fill="#ded4b6"/>
<ellipse cx="553.7" cy="376.1" rx="3.7" ry="1.4" transform="rotate(-7 553.7 376.1)" fill="#dbd0ae"/>
<ellipse cx="560.7" cy="375.6" rx="3.1" ry="1.6" transform="rotate(18 560.7 375.6)" fill="#ded4b6"/>
<ellipse cx="568.3" cy="374.6" rx="2.6" ry="1.6" transform="rotate(75 568.3 374.6)" fill="#ded4b6"/>
<ellipse cx="570.1" cy="376.5" rx="2.7" ry="1.7" transform="rotate(-1 570.1 376.5)" fill="#d4c8a3"/>
<ellipse cx="581.8" cy="375.7" rx="2.2" ry="1.7" transform="rotate(17 581.8 375.7)" fill="#d4c8a3"/>
<ellipse cx="585.8" cy="374.8" rx="3.1" ry="1.8" transform="rotate(-63 585.8 374.8)" fill="#dbd0ae"/>
<ellipse cx="595.7" cy="378.5" rx="3.0" ry="1.8" transform="rotate(-58 595.7 378.5)" fill="#dbd0ae"/>
<ellipse cx="600.1" cy="379.5" rx="3.2" ry="1.8" transform="rotate(39 600.1 379.5)" fill="#ded4b6"/>
<ellipse cx="604.6" cy="378.2" rx="3.6" ry="1.5" transform="rotate(-63 604.6 378.2)" fill="#ded4b6"/>
<ellipse cx="614.2" cy="377.9" rx="4.1" ry="1.7" transform="rotate(-13 614.2 377.9)" fill="#d4c8a3"/>
<ellipse cx="621.4" cy="378.0" rx="3.1" ry="1.6" transform="rotate(36 621.4 378.0)" fill="#d4c8a3"/>
<ellipse cx="624.9" cy="377.6" rx="3.5" ry="1.1" transform="rotate(39 624.9 377.6)" fill="#ded4b6"/>
<ellipse cx="631.7" cy="376.2" rx="3.8" ry="1.5" transform="rotate(-20 631.7 376.2)" fill="#dbd0ae"/>
<ellipse cx="636.6" cy="379.9" rx="3.9" ry="1.9" transform="rotate(73 636.6 379.9)" fill="#dbd0ae"/>
<ellipse cx="649.4" cy="376.0" rx="2.8" ry="1.6" transform="rotate(-30 649.4 376.0)" fill="#ded4b6"/>
<ellipse cx="658.9" cy="377.5" rx="3.0" ry="1.5" transform="rotate(15 658.9 377.5)" fill="#d4c8a3"/>
<ellipse cx="665.1" cy="374.5" rx="2.7" ry="1.5" transform="rotate(0 665.1 374.5)" fill="#dbd0ae"/>
<ellipse cx="674.3" cy="380.2" rx="3.1" ry="1.7" transform="rotate(79 674.3 380.2)" fill="#d4c8a3"/>
<ellipse cx="679.7" cy="378.9" rx="2.9" ry="1.5" transform="rotate(-68 679.7 378.9)" fill="#d4c8a3"/>
<ellipse cx="685.3" cy="375.1" rx="3.6" ry="1.9" transform="rotate(78 685.3 375.1)" fill="#ded4b6"/>
<ellipse cx="692.6" cy="377.5" rx="2.6" ry="2.0" transform="rotate(-14 692.6 377.5)" fill="#d7cba8"/>
<ellipse cx="699.2" cy="378.0" rx="4.2" ry="1.7" transform="rotate(-73 699.2 378.0)" fill="#ded4b6"/>
<ellipse cx="702.1" cy="374.4" rx="3.3" ry="2.0" transform="rotate(-16 702.1 374.4)" fill="#d7cba8"/>
<ellipse cx="712.1" cy="378.4" rx="3.2" ry="1.7" transform="rotate(-37 712.1 378.4)" fill="#dbd0ae"/>
<ellipse cx="718.6" cy="376.9" rx="2.5" ry="1.9" transform="rotate(-63 718.6 376.9)" fill="#d7cba8"/>
<ellipse cx="722.3" cy="380.1" rx="3.1" ry="1.5" transform="rotate(48 722.3 380.1)" fill="#d7cba8"/>
<ellipse cx="732.5" cy="377.9" rx="2.7" ry="1.4" transform="rotate(-75 732.5 377.9)" fill="#d7cba8"/>
<ellipse cx="495.4" cy="381.3" rx="2.7" ry="1.3" transform="rotate(-54 495.4 381.3)" fill="#dbd0ae"/>
<ellipse cx="499.3" cy="386.4" rx="2.8" ry="1.7" transform="rotate(74 499.3 386.4)" fill="#ded4b6"/>
<ellipse cx="509.8" cy="381.4" rx="3.5" ry="1.7" transform="rotate(-14 509.8 381.4)" fill="#ded4b6"/>
<ellipse cx="515.8" cy="383.9" rx="2.7" ry="1.3" transform="rotate(-23 515.8 383.9)" fill="#dbd0ae"/>
<ellipse cx="517.3" cy="386.3" rx="2.9" ry="1.4" transform="rotate(59 517.3 386.3)" fill="#d4c8a3"/>
<ellipse cx="526.2" cy="381.4" rx="3.9" ry="1.5" transform="rotate(-41 526.2 381.4)" fill="#dbd0ae"/>
<ellipse cx="533.2" cy="383.1" rx="2.8" ry="1.1" transform="rotate(49 533.2 383.1)" fill="#dbd0ae"/>
<ellipse cx="541.2" cy="381.6" rx="3.9" ry="1.2" transform="rotate(-9 541.2 381.6)" fill="#dbd0ae"/>
<ellipse cx="544.6" cy="383.1" rx="3.0" ry="2.1" transform="rotate(-47 544.6 383.1)" fill="#ded4b6"/>
<ellipse cx="553.2" cy="382.4" rx="2.5" ry="1.8" transform="rotate(-38 553.2 382.4)" fill="#ded4b6"/>
<ellipse cx="560.3" cy="383.2" rx="3.4" ry="1.3" transform="rotate(60 560.3 383.2)" fill="#d7cba8"/>
<ellipse cx="567.5" cy="381.6" rx="3.7" ry="1.9" transform="rotate(-75 567.5 381.6)" fill="#dbd0ae"/>
<ellipse cx="571.9" cy="383.3" rx="2.6" ry="2.0" transform="rotate(-29 571.9 383.3)" fill="#d7cba8"/>
<ellipse cx="577.0" cy="386.5" rx="3.7" ry="1.3" transform="rotate(35 577.0 386.5)" fill="#d7cba8"/>
<ellipse cx="584.6" cy="381.8" rx="2.8" ry="1.5" transform="rotate(65 584.6 381.8)" fill="#dbd0ae"/>
<ellipse cx="595.4" cy="382.1" rx="3.8" ry="1.8" transform="rotate(64 595.4 382.1)" fill="#d7cba8"/>
<ellipse cx="600.3" cy="385.2" rx="3.9" ry="1.5" transform="rotate(21 600.3 385.2)" fill="#dbd0ae"/>
<ellipse cx="604.8" cy="382.6" rx="2.6" ry="1.8" transform="rotate(-15 604.8 382.6)" fill="#dbd0ae"/>
<ellipse cx="612.2" cy="385.5" rx="3.7" ry="1.7" transform="rotate(21 612.2 385.5)" fill="#dbd0ae"/>
<ellipse cx="619.6" cy="382.4" rx="3.2" ry="2.0" transform="rotate(27 619.6 382.4)" fill="#d4c8a3"/>
<ellipse cx="628.4" cy="381.7" rx="3.5" ry="2.0" transform="rotate(60 628.4 381.7)" fill="#d7cba8"/>
<ellipse cx="635.2" cy="385.1" rx="2.8" ry="1.9" transform="rotate(-25 635.2 385.1)" fill="#d7cba8"/>
<ellipse cx="646.3" cy="382.3" rx="2.9" ry="2.0" transform="rotate(-9 646.3 382.3)" fill="#d4c8a3"/>
<ellipse cx="653.3" cy="385.4" rx="3.5" ry="1.6" transform="rotate(-71 653.3 385.4)" fill="#dbd0ae"/>
<ellipse cx="658.4" cy="384.1" rx="2.5" ry="1.9" transform="rotate(-73 658.4 384.1)" fill="#d4c8a3"/>
<ellipse cx="663.5" cy="382.0" rx="2.7" ry="1.4" transform="rotate(74 663.5 382.0)" fill="#dbd0ae"/>
<ellipse cx="671.2" cy="383.5" rx="2.8" ry="1.2" transform="rotate(33 671.2 383.5)" fill="#ded4b6"/>
<ellipse cx="677.0" cy="382.5" rx="3.1" ry="2.0" transform="rotate(-24 677.0 382.5)" fill="#d4c8a3"/>
<ellipse cx="683.0" cy="385.2" rx="2.7" ry="1.7" transform="rotate(-61 683.0 385.2)" fill="#ded4b6"/>
<ellipse cx="693.3" cy="382.0" rx="3.4" ry="1.6" transform="rotate(43 693.3 382.0)" fill="#dbd0ae"/>
<ellipse cx="696.1" cy="382.7" rx="2.6" ry="1.2" transform="rotate(-35 696.1 382.7)" fill="#dbd0ae"/>
<ellipse cx="709.6" cy="383.7" rx="2.8" ry="1.7" transform="rotate(-73 709.6 383.7)" fill="#ded4b6"/>
<ellipse cx="721.1" cy="385.5" rx="3.6" ry="2.1" transform="rotate(10 721.1 385.5)" fill="#d7cba8"/>
<ellipse cx="725.7" cy="386.7" rx="3.8" ry="1.4" transform="rotate(-23 725.7 386.7)" fill="#d7cba8"/>
<ellipse cx="732.3" cy="384.8" rx="3.5" ry="1.4" transform="rotate(-41 732.3 384.8)" fill="#dbd0ae"/>
<ellipse cx="501.7" cy="389.5" rx="3.0" ry="1.7" transform="rotate(-23 501.7 389.5)" fill="#dbd0ae"/>
<ellipse cx="506.2" cy="390.9" rx="3.9" ry="1.3" transform="rotate(-73 506.2 390.9)" fill="#ded4b6"/>
<ellipse cx="516.0" cy="393.2" rx="3.2" ry="1.3" transform="rotate(-32 516.0 393.2)" fill="#d7cba8"/>
<ellipse cx="518.1" cy="389.0" rx="3.5" ry="1.5" transform="rotate(77 518.1 389.0)" fill="#ded4b6"/>
<ellipse cx="526.7" cy="388.9" rx="2.3" ry="1.7" transform="rotate(53 526.7 388.9)" fill="#ded4b6"/>
<ellipse cx="531.3" cy="388.1" rx="3.6" ry="2.0" transform="rotate(-70 531.3 388.1)" fill="#d7cba8"/>
<ellipse cx="541.0" cy="392.5" rx="2.5" ry="1.4" transform="rotate(-9 541.0 392.5)" fill="#d4c8a3"/>
<ellipse cx="547.0" cy="390.4" rx="3.2" ry="1.5" transform="rotate(6 547.0 390.4)" fill="#dbd0ae"/>
<ellipse cx="556.0" cy="393.3" rx="3.8" ry="1.2" transform="rotate(28 556.0 393.3)" fill="#d4c8a3"/>
<ellipse cx="560.2" cy="390.1" rx="3.5" ry="1.2" transform="rotate(58 560.2 390.1)" fill="#d7cba8"/>
<ellipse cx="568.5" cy="389.0" rx="3.6" ry="1.2" transform="rotate(13 568.5 389.0)" fill="#ded4b6"/>
<ellipse cx="572.2" cy="389.1" rx="2.7" ry="1.3" transform="rotate(75 572.2 389.1)" fill="#dbd0ae"/>
<ellipse cx="579.9" cy="388.3" rx="2.7" ry="1.2" transform="rotate(5 579.9 388.3)" fill="#d4c8a3"/>
<ellipse cx="587.4" cy="389.0" rx="3.3" ry="1.8" transform="rotate(38 587.4 389.0)" fill="#d7cba8"/>
<ellipse cx="594.9" cy="391.7" rx="2.5" ry="1.6" transform="rotate(1 594.9 391.7)" fill="#d7cba8"/>
<ellipse cx="600.2" cy="393.3" rx="3.1" ry="1.8" transform="rotate(7 600.2 393.3)" fill="#dbd0ae"/>
<ellipse cx="606.4" cy="392.2" rx="3.8" ry="1.2" transform="rotate(-42 606.4 392.2)" fill="#d4c8a3"/>
<ellipse cx="619.0" cy="388.3" rx="4.0" ry="1.2" transform="rotate(78 619.0 388.3)" fill="#dbd0ae"/>
<ellipse cx="626.2" cy="393.1" rx="2.5" ry="1.8" transform="rotate(-25 626.2 393.1)" fill="#d7cba8"/>
<ellipse cx="634.3" cy="388.4" rx="3.7" ry="2.0" transform="rotate(35 634.3 388.4)" fill="#d7cba8"/>
<ellipse cx="640.9" cy="389.7" rx="2.9" ry="1.7" transform="rotate(-75 640.9 389.7)" fill="#dbd0ae"/>
<ellipse cx="644.1" cy="388.8" rx="3.9" ry="1.7" transform="rotate(-62 644.1 388.8)" fill="#d7cba8"/>
<ellipse cx="652.1" cy="388.1" rx="2.5" ry="2.0" transform="rotate(60 652.1 388.1)" fill="#ded4b6"/>
<ellipse cx="660.8" cy="391.1" rx="4.2" ry="1.9" transform="rotate(-37 660.8 391.1)" fill="#ded4b6"/>
<ellipse cx="662.5" cy="389.7" rx="3.2" ry="2.0" transform="rotate(48 662.5 389.7)" fill="#d7cba8"/>
<ellipse cx="669.5" cy="391.3" rx="3.4" ry="1.9" transform="rotate(75 669.5 391.3)" fill="#ded4b6"/>
<ellipse cx="678.0" cy="392.8" rx="2.4" ry="1.4" transform="rotate(-45 678.0 392.8)" fill="#dbd0ae"/>
<ellipse cx="685.7" cy="387.9" rx="2.9" ry="1.6" transform="rotate(12 685.7 387.9)" fill="#ded4b6"/>
<ellipse cx="694.4" cy="389.5" rx="3.2" ry="1.3" transform="rotate(-40 694.4 389.5)" fill="#d7cba8"/>
<ellipse cx="699.2" cy="391.9" rx="3.0" ry="1.2" transform="rotate(79 699.2 391.9)" fill="#d4c8a3"/>
<ellipse cx="714.5" cy="387.8" rx="3.7" ry="2.0" transform="rotate(44 714.5 387.8)" fill="#d7cba8"/>
<ellipse cx="717.4" cy="389.3" rx="3.9" ry="2.0" transform="rotate(29 717.4 389.3)" fill="#d4c8a3"/>
<ellipse cx="727.5" cy="389.7" rx="3.9" ry="1.3" transform="rotate(60 727.5 389.7)" fill="#ded4b6"/>
<ellipse cx="730.4" cy="391.8" rx="4.0" ry="1.9" transform="rotate(1 730.4 391.8)" fill="#dbd0ae"/>
<ellipse cx="508.3" cy="395.7" rx="3.5" ry="2.1" transform="rotate(-68 508.3 395.7)" fill="#dbd0ae"/>
<ellipse cx="514.1" cy="394.7" rx="3.4" ry="2.1" transform="rotate(-23 514.1 394.7)" fill="#ded4b6"/>
<ellipse cx="521.5" cy="399.7" rx="2.8" ry="1.3" transform="rotate(64 521.5 399.7)" fill="#d7cba8"/>
<ellipse cx="528.3" cy="398.0" rx="2.2" ry="1.1" transform="rotate(-8 528.3 398.0)" fill="#d4c8a3"/>
<ellipse cx="535.6" cy="398.1" rx="3.7" ry="2.1" transform="rotate(16 535.6 398.1)" fill="#d7cba8"/>
<ellipse cx="537.5" cy="399.1" rx="3.6" ry="1.1" transform="rotate(-37 537.5 399.1)" fill="#d7cba8"/>
<ellipse cx="547.4" cy="399.7" rx="2.9" ry="1.8" transform="rotate(24 547.4 399.7)" fill="#ded4b6"/>
<ellipse cx="553.9" cy="399.0" rx="3.9" ry="1.9" transform="rotate(-66 553.9 399.0)" fill="#d4c8a3"/>
<ellipse cx="561.4" cy="400.1" rx="4.1" ry="2.0" transform="rotate(-76 561.4 400.1)" fill="#d4c8a3"/>
<ellipse cx="566.8" cy="400.1" rx="3.4" ry="1.8" transform="rotate(-27 566.8 400.1)" fill="#d7cba8"/>
<ellipse cx="570.1" cy="395.5" rx="3.9" ry="1.5" transform="rotate(-22 570.1 395.5)" fill="#d4c8a3"/>
<ellipse cx="579.8" cy="397.7" rx="3.5" ry="1.7" transform="rotate(-27 579.8 397.7)" fill="#d4c8a3"/>
<ellipse cx="588.1" cy="397.1" rx="3.5" ry="1.8" transform="rotate(8 588.1 397.1)" fill="#ded4b6"/>
<ellipse cx="593.2" cy="396.4" rx="2.7" ry="1.4" transform="rotate(9 593.2 396.4)" fill="#d7cba8"/>
<ellipse cx="600.3" cy="398.8" rx="4.2" ry="1.3" transform="rotate(41 600.3 398.8)" fill="#d7cba8"/>
<ellipse cx="608.6" cy="397.9" rx="3.3" ry="1.3" transform="rotate(44 608.6 397.9)" fill="#d4c8a3"/>
<ellipse cx="615.2" cy="396.4" rx="2.6" ry="1.8" transform="rotate(67 615.2 396.4)" fill="#dbd0ae"/>
<ellipse cx="619.4" cy="396.3" rx="3.1" ry="2.0" transform="rotate(-46 619.4 396.3)" fill="#d4c8a3"/>
<ellipse cx="628.2" cy="396.5" rx="3.8" ry="1.1" transform="rotate(26 628.2 396.5)" fill="#d7cba8"/>
<ellipse cx="629.8" cy="398.1" rx="3.9" ry="1.2" transform="rotate(10 629.8 398.1)" fill="#ded4b6"/>
<ellipse cx="641.4" cy="396.5" rx="3.9" ry="1.1" transform="rotate(-77 641.4 396.5)" fill="#ded4b6"/>
<ellipse cx="644.1" cy="396.3" rx="3.1" ry="1.4" transform="rotate(61 644.1 396.3)" fill="#ded4b6"/>
<ellipse cx="650.5" cy="397.6" rx="3.9" ry="2.0" transform="rotate(-37 650.5 397.6)" fill="#dbd0ae"/>
<ellipse cx="660.7" cy="395.9" rx="3.2" ry="2.0" transform="rotate(-54 660.7 395.9)" fill="#ded4b6"/>
<ellipse cx="663.7" cy="394.5" rx="3.9" ry="1.8" transform="rotate(-73 663.7 394.5)" fill="#ded4b6"/>
<ellipse cx="677.4" cy="394.4" rx="4.1" ry="1.1" transform="rotate(66 677.4 394.4)" fill="#dbd0ae"/>
<ellipse cx="685.2" cy="396.3" rx="3.1" ry="1.5" transform="rotate(-14 685.2 396.3)" fill="#ded4b6"/>
<ellipse cx="694.1" cy="400.0" rx="2.7" ry="1.9" transform="rotate(30 694.1 400.0)" fill="#d7cba8"/>
<ellipse cx="696.2" cy="397.8" rx="3.6" ry="1.8" transform="rotate(-72 696.2 397.8)" fill="#d4c8a3"/>
<ellipse cx="714.4" cy="397.4" rx="2.6" ry="1.6" transform="rotate(21 714.4 397.4)" fill="#d7cba8"/>
<ellipse cx="722.3" cy="400.0" rx="4.1" ry="1.3" transform="rotate(-68 722.3 400.0)" fill="#dbd0ae"/>
<ellipse cx="736.2" cy="394.5" rx="4.1" ry="1.4" transform="rotate(-28 736.2 394.5)" fill="#d7cba8"/>
<ellipse cx="523.9" cy="404.4" rx="2.7" ry="1.7" transform="rotate(-20 523.9 404.4)" fill="#dbd0ae"/>
<ellipse cx="535.3" cy="404.8" rx="3.4" ry="1.1" transform="rotate(35 535.3 404.8)" fill="#ded4b6"/>
<ellipse cx="541.2" cy="402.8" rx="3.3" ry="1.4" transform="rotate(75 541.2 402.8)" fill="#d7cba8"/>
<ellipse cx="546.4" cy="404.7" rx="2.9" ry="1.6" transform="rotate(-19 546.4 404.7)" fill="#ded4b6"/>
<ellipse cx="558.4" cy="404.7" rx="2.3" ry="1.9" transform="rotate(26 558.4 404.7)" fill="#d4c8a3"/>
<ellipse cx="565.0" cy="405.8" rx="2.9" ry="1.7" transform="rotate(11 565.0 405.8)" fill="#dbd0ae"/>
<ellipse cx="570.4" cy="405.3" rx="2.6" ry="1.3" transform="rotate(-21 570.4 405.3)" fill="#dbd0ae"/>
<ellipse cx="577.5" cy="404.8" rx="4.1" ry="2.0" transform="rotate(24 577.5 404.8)" fill="#d7cba8"/>
<ellipse cx="585.1" cy="403.0" rx="3.1" ry="1.5" transform="rotate(32 585.1 403.0)" fill="#ded4b6"/>
<ellipse cx="590.4" cy="402.9" rx="3.2" ry="1.6" transform="rotate(-66 590.4 402.9)" fill="#ded4b6"/>
<ellipse cx="598.2" cy="403.5" rx="3.5" ry="1.8" transform="rotate(-52 598.2 403.5)" fill="#dbd0ae"/>
<ellipse cx="603.1" cy="401.6" rx="3.5" ry="1.7" transform="rotate(4 603.1 401.6)" fill="#ded4b6"/>
<ellipse cx="611.1" cy="404.1" rx="2.7" ry="1.7" transform="rotate(-31 611.1 404.1)" fill="#d4c8a3"/>
<ellipse cx="621.7" cy="402.3" rx="3.1" ry="1.6" transform="rotate(-1 621.7 402.3)" fill="#d7cba8"/>
<ellipse cx="624.0" cy="403.3" rx="3.4" ry="1.5" transform="rotate(-73 624.0 403.3)" fill="#ded4b6"/>
<ellipse cx="631.7" cy="401.1" rx="4.1" ry="1.5" transform="rotate(17 631.7 401.1)" fill="#d4c8a3"/>
<ellipse cx="638.1" cy="403.1" rx="4.0" ry="1.3" transform="rotate(75 638.1 403.1)" fill="#d4c8a3"/>
<ellipse cx="643.0" cy="402.0" rx="2.4" ry="1.5" transform="rotate(-17 643.0 402.0)" fill="#ded4b6"/>
<ellipse cx="652.2" cy="406.2" rx="2.3" ry="1.7" transform="rotate(-6 652.2 406.2)" fill="#ded4b6"/>
<ellipse cx="663.5" cy="401.2" rx="2.5" ry="1.9" transform="rotate(-78 663.5 401.2)" fill="#dbd0ae"/>
<ellipse cx="673.4" cy="403.2" rx="3.6" ry="1.7" transform="rotate(43 673.4 403.2)" fill="#ded4b6"/>
<ellipse cx="676.3" cy="402.1" rx="3.8" ry="1.2" transform="rotate(-66 676.3 402.1)" fill="#dbd0ae"/>
<ellipse cx="685.6" cy="401.2" rx="3.6" ry="1.6" transform="rotate(-71 685.6 401.2)" fill="#ded4b6"/>
<ellipse cx="693.8" cy="401.7" rx="2.3" ry="1.7" transform="rotate(-29 693.8 401.7)" fill="#dbd0ae"/>
<ellipse cx="703.7" cy="402.4" rx="2.7" ry="2.0" transform="rotate(9 703.7 402.4)" fill="#ded4b6"/>
<ellipse cx="712.7" cy="402.7" rx="3.0" ry="1.5" transform="rotate(6 712.7 402.7)" fill="#d4c8a3"/>
<ellipse cx="716.4" cy="401.1" rx="2.9" ry="1.6" transform="rotate(-2 716.4 401.1)" fill="#dbd0ae"/>
<ellipse cx="724.0" cy="405.6" rx="4.0" ry="1.7" transform="rotate(-72 724.0 405.6)" fill="#d4c8a3"/>
<ellipse cx="739.9" cy="401.0" rx="3.1" ry="1.3" transform="rotate(-47 739.9 401.0)" fill="#ded4b6"/>
<ellipse cx="547.9" cy="410.5" rx="2.6" ry="1.2" transform="rotate(-72 547.9 410.5)" fill="#dbd0ae"/>
<ellipse cx="554.1" cy="409.0" rx="3.6" ry="1.3" transform="rotate(-71 554.1 409.0)" fill="#dbd0ae"/>
<ellipse cx="557.1" cy="412.4" rx="2.7" ry="1.7" transform="rotate(-29 557.1 412.4)" fill="#dbd0ae"/>
<ellipse cx="565.3" cy="409.0" rx="2.6" ry="2.0" transform="rotate(26 565.3 409.0)" fill="#dbd0ae"/>
<ellipse cx="572.4" cy="407.6" rx="3.5" ry="1.3" transform="rotate(7 572.4 407.6)" fill="#d7cba8"/>
<ellipse cx="577.8" cy="408.3" rx="2.9" ry="1.5" transform="rotate(-74 577.8 408.3)" fill="#d4c8a3"/>
<ellipse cx="595.4" cy="410.6" rx="2.9" ry="1.9" transform="rotate(-1 595.4 410.6)" fill="#d7cba8"/>
<ellipse cx="597.6" cy="409.1" rx="3.4" ry="1.9" transform="rotate(-48 597.6 409.1)" fill="#ded4b6"/>
<ellipse cx="604.6" cy="412.7" rx="2.7" ry="2.0" transform="rotate(-75 604.6 412.7)" fill="#d7cba8"/>
<ellipse cx="615.4" cy="409.5" rx="3.5" ry="1.2" transform="rotate(-27 615.4 409.5)" fill="#ded4b6"/>
<ellipse cx="619.1" cy="409.4" rx="2.4" ry="1.9" transform="rotate(49 619.1 409.4)" fill="#ded4b6"/>
<ellipse cx="623.4" cy="410.7" rx="3.4" ry="1.6" transform="rotate(-75 623.4 410.7)" fill="#d7cba8"/>
<ellipse cx="631.9" cy="411.6" rx="3.9" ry="1.2" transform="rotate(36 631.9 411.6)" fill="#dbd0ae"/>
<ellipse cx="638.2" cy="411.4" rx="2.2" ry="1.7" transform="rotate(54 638.2 411.4)" fill="#d4c8a3"/>
<ellipse cx="643.5" cy="408.0" rx="2.4" ry="1.6" transform="rotate(6 643.5 408.0)" fill="#d7cba8"/>
<ellipse cx="651.2" cy="408.9" rx="2.3" ry="1.4" transform="rotate(72 651.2 408.9)" fill="#d4c8a3"/>
<ellipse cx="658.2" cy="408.6" rx="2.7" ry="2.0" transform="rotate(0 658.2 408.6)" fill="#d7cba8"/>
<ellipse cx="662.5" cy="413.0" rx="3.8" ry="1.7" transform="rotate(30 662.5 413.0)" fill="#dbd0ae"/>
<ellipse cx="669.5" cy="408.4" rx="4.2" ry="1.5" transform="rotate(20 669.5 408.4)" fill="#d7cba8"/>
<ellipse cx="677.4" cy="412.7" rx="3.4" ry="1.3" transform="rotate(15 677.4 412.7)" fill="#d7cba8"/>
<ellipse cx="687.1" cy="407.9" rx="2.4" ry="1.3" transform="rotate(44 687.1 407.9)" fill="#dbd0ae"/>
<ellipse cx="693.7" cy="409.5" rx="3.1" ry="2.0" transform="rotate(-78 693.7 409.5)" fill="#ded4b6"/>
<ellipse cx="700.1" cy="407.6" rx="2.5" ry="1.6" transform="rotate(-53 700.1 407.6)" fill="#d4c8a3"/>
<ellipse cx="706.6" cy="408.6" rx="3.6" ry="1.8" transform="rotate(-69 706.6 408.6)" fill="#d7cba8"/>
<ellipse cx="713.3" cy="410.3" rx="3.8" ry="2.0" transform="rotate(40 713.3 410.3)" fill="#d7cba8"/>
<ellipse cx="716.4" cy="411.1" rx="3.8" ry="1.2" transform="rotate(35 716.4 411.1)" fill="#d4c8a3"/>
<ellipse cx="725.3" cy="412.2" rx="3.7" ry="1.6" transform="rotate(-39 725.3 412.2)" fill="#d4c8a3"/>
<ellipse cx="733.8" cy="411.9" rx="3.8" ry="1.7" transform="rotate(-10 733.8 411.9)" fill="#d4c8a3"/>
<ellipse cx="739.5" cy="411.0" rx="3.5" ry="1.2" transform="rotate(45 739.5 411.0)" fill="#d4c8a3"/>
<ellipse cx="566.3" cy="416.5" rx="2.5" ry="1.6" transform="rotate(-67 566.3 416.5)" fill="#ded4b6"/>
<ellipse cx="578.4" cy="414.6" rx="3.6" ry="1.5" transform="rotate(26 578.4 414.6)" fill="#dbd0ae"/>
<ellipse cx="583.9" cy="418.1" rx="3.8" ry="1.3" transform="rotate(-37 583.9 418.1)" fill="#dbd0ae"/>
<ellipse cx="592.0" cy="415.4" rx="3.4" ry="2.0" transform="rotate(-17 592.0 415.4)" fill="#ded4b6"/>
<ellipse cx="598.3" cy="419.2" rx="3.4" ry="2.0" transform="rotate(75 598.3 419.2)" fill="#ded4b6"/>
<ellipse cx="606.2" cy="414.0" rx="4.1" ry="1.6" transform="rotate(50 606.2 414.0)" fill="#d4c8a3"/>
<ellipse cx="673.8" cy="414.4" rx="3.2" ry="1.8" transform="rotate(-77 673.8 414.4)" fill="#d7cba8"/>
<ellipse cx="695.6" cy="416.0" rx="4.1" ry="2.0" transform="rotate(-57 695.6 416.0)" fill="#d7cba8"/>
<ellipse cx="708.0" cy="415.1" rx="4.2" ry="1.7" transform="rotate(-41 708.0 415.1)" fill="#d7cba8"/>
<ellipse cx="732.6" cy="418.1" rx="2.5" ry="1.7" transform="rotate(52 732.6 418.1)" fill="#d4c8a3"/>
<ellipse cx="740.3" cy="415.2" rx="2.3" ry="1.4" transform="rotate(3 740.3 415.2)" fill="#d4c8a3"/>
<ellipse cx="948.9" cy="471.1" rx="3.6" ry="1.8" transform="rotate(-10 948.9 471.1)" fill="#e0d8c0"/>
<ellipse cx="958.2" cy="469.2" rx="3.5" ry="1.1" transform="rotate(24 958.2 469.2)" fill="#ddd4b9"/>
<ellipse cx="937.7" cy="474.5" rx="2.0" ry="1.5" transform="rotate(-25 937.7 474.5)" fill="#d7ccae"/>
<ellipse cx="945.6" cy="474.6" rx="3.4" ry="1.8" transform="rotate(47 945.6 474.6)" fill="#ddd4b9"/>
<ellipse cx="947.4" cy="477.6" rx="3.1" ry="1.3" transform="rotate(6 947.4 477.6)" fill="#e0d8c0"/>
<ellipse cx="954.5" cy="475.8" rx="2.9" ry="1.8" transform="rotate(-15 954.5 475.8)" fill="#dbd1b4"/>
<ellipse cx="620.8" cy="483.8" rx="2.1" ry="1.1" transform="rotate(9 620.8 483.8)" fill="#e0d8c0"/>
<ellipse cx="642.3" cy="481.8" rx="2.3" ry="1.9" transform="rotate(60 642.3 481.8)" fill="#e0d8c0"/>
<ellipse cx="649.6" cy="484.4" rx="3.5" ry="1.2" transform="rotate(57 649.6 484.4)" fill="#d7ccae"/>
<ellipse cx="658.4" cy="481.0" rx="2.3" ry="1.8" transform="rotate(-55 658.4 481.0)" fill="#d7ccae"/>
<ellipse cx="665.2" cy="480.4" rx="2.2" ry="1.9" transform="rotate(-19 665.2 480.4)" fill="#dbd1b4"/>
<ellipse cx="671.4" cy="480.7" rx="2.0" ry="1.8" transform="rotate(-59 671.4 480.7)" fill="#d7ccae"/>
<ellipse cx="677.0" cy="483.8" rx="3.4" ry="1.2" transform="rotate(-21 677.0 483.8)" fill="#dbd1b4"/>
<ellipse cx="686.9" cy="484.9" rx="3.3" ry="1.8" transform="rotate(-75 686.9 484.9)" fill="#ddd4b9"/>
<ellipse cx="696.6" cy="484.8" rx="2.0" ry="1.1" transform="rotate(-20 696.6 484.8)" fill="#d7ccae"/>
<ellipse cx="718.4" cy="483.7" rx="2.2" ry="1.4" transform="rotate(-52 718.4 483.7)" fill="#ddd4b9"/>
<ellipse cx="909.9" cy="483.6" rx="2.8" ry="1.6" transform="rotate(-8 909.9 483.6)" fill="#dbd1b4"/>
<ellipse cx="914.5" cy="485.3" rx="2.5" ry="1.3" transform="rotate(-48 914.5 485.3)" fill="#dbd1b4"/>
<ellipse cx="922.0" cy="483.5" rx="3.7" ry="1.2" transform="rotate(-4 922.0 483.5)" fill="#e0d8c0"/>
<ellipse cx="934.3" cy="482.2" rx="3.4" ry="1.2" transform="rotate(76 934.3 482.2)" fill="#d7ccae"/>
<ellipse cx="940.1" cy="480.4" rx="3.3" ry="1.5" transform="rotate(43 940.1 480.4)" fill="#ddd4b9"/>
<ellipse cx="951.8" cy="479.3" rx="2.4" ry="1.4" transform="rotate(10 951.8 479.3)" fill="#e0d8c0"/>
<ellipse cx="954.4" cy="480.8" rx="3.7" ry="1.1" transform="rotate(-58 954.4 480.8)" fill="#ddd4b9"/>
<ellipse cx="609.3" cy="489.4" rx="3.4" ry="1.6" transform="rotate(2 609.3 489.4)" fill="#dbd1b4"/>
<ellipse cx="616.3" cy="489.2" rx="3.2" ry="1.3" transform="rotate(4 616.3 489.2)" fill="#ddd4b9"/>
<ellipse cx="623.0" cy="489.8" rx="2.7" ry="1.8" transform="rotate(73 623.0 489.8)" fill="#ddd4b9"/>
<ellipse cx="629.7" cy="492.0" rx="3.5" ry="1.6" transform="rotate(-71 629.7 492.0)" fill="#e0d8c0"/>
<ellipse cx="643.5" cy="488.2" rx="3.7" ry="1.8" transform="rotate(-6 643.5 488.2)" fill="#d7ccae"/>
<ellipse cx="652.3" cy="487.6" rx="3.7" ry="1.2" transform="rotate(-15 652.3 487.6)" fill="#ddd4b9"/>
<ellipse cx="659.8" cy="487.6" rx="2.6" ry="1.6" transform="rotate(43 659.8 487.6)" fill="#ddd4b9"/>
<ellipse cx="678.5" cy="490.1" rx="2.8" ry="1.3" transform="rotate(7 678.5 490.1)" fill="#d7ccae"/>
<ellipse cx="685.9" cy="488.8" rx="2.8" ry="1.0" transform="rotate(28 685.9 488.8)" fill="#ddd4b9"/>
<ellipse cx="690.8" cy="486.9" rx="2.5" ry="1.5" transform="rotate(-47 690.8 486.9)" fill="#ddd4b9"/>
<ellipse cx="699.5" cy="492.1" rx="3.4" ry="1.3" transform="rotate(-39 699.5 492.1)" fill="#dbd1b4"/>
<ellipse cx="712.3" cy="487.4" rx="2.9" ry="1.6" transform="rotate(-36 712.3 487.4)" fill="#dbd1b4"/>
<ellipse cx="720.4" cy="491.3" rx="2.4" ry="1.1" transform="rotate(-52 720.4 491.3)" fill="#ddd4b9"/>
<ellipse cx="735.1" cy="487.0" rx="2.9" ry="1.3" transform="rotate(-13 735.1 487.0)" fill="#e0d8c0"/>
<ellipse cx="744.4" cy="487.8" rx="2.1" ry="1.9" transform="rotate(-59 744.4 487.8)" fill="#d7ccae"/>
<ellipse cx="751.6" cy="489.1" rx="3.7" ry="1.5" transform="rotate(-72 751.6 489.1)" fill="#ddd4b9"/>
<ellipse cx="761.5" cy="488.7" rx="2.0" ry="1.3" transform="rotate(-68 761.5 488.7)" fill="#e0d8c0"/>
<ellipse cx="763.7" cy="489.7" rx="3.3" ry="1.7" transform="rotate(47 763.7 489.7)" fill="#ddd4b9"/>
<ellipse cx="773.7" cy="491.2" rx="2.8" ry="1.0" transform="rotate(69 773.7 491.2)" fill="#ddd4b9"/>
<ellipse cx="777.4" cy="490.0" rx="2.4" ry="1.4" transform="rotate(5 777.4 490.0)" fill="#dbd1b4"/>
<ellipse cx="783.7" cy="490.6" rx="2.5" ry="1.6" transform="rotate(31 783.7 490.6)" fill="#ddd4b9"/>
<ellipse cx="799.0" cy="490.2" rx="2.3" ry="1.2" transform="rotate(43 799.0 490.2)" fill="#d7ccae"/>
<ellipse cx="890.5" cy="489.3" rx="3.5" ry="1.8" transform="rotate(-13 890.5 489.3)" fill="#d7ccae"/>
<ellipse cx="895.6" cy="490.9" rx="2.5" ry="1.0" transform="rotate(43 895.6 490.9)" fill="#dbd1b4"/>
<ellipse cx="903.0" cy="487.8" rx="3.7" ry="1.8" transform="rotate(-59 903.0 487.8)" fill="#e0d8c0"/>
<ellipse cx="910.1" cy="486.4" rx="3.5" ry="1.6" transform="rotate(-25 910.1 486.4)" fill="#dbd1b4"/>
<ellipse cx="913.6" cy="490.4" rx="3.3" ry="1.0" transform="rotate(66 913.6 490.4)" fill="#ddd4b9"/>
<ellipse cx="922.8" cy="490.4" rx="3.5" ry="1.5" transform="rotate(-15 922.8 490.4)" fill="#ddd4b9"/>
<ellipse cx="927.4" cy="490.8" rx="2.6" ry="1.1" transform="rotate(-41 927.4 490.8)" fill="#dbd1b4"/>
<ellipse cx="944.3" cy="488.5" rx="2.3" ry="1.7" transform="rotate(41 944.3 488.5)" fill="#e0d8c0"/>
<ellipse cx="951.1" cy="490.6" rx="2.3" ry="1.9" transform="rotate(-63 951.1 490.6)" fill="#d7ccae"/>
<ellipse cx="958.4" cy="486.3" rx="3.4" ry="1.6" transform="rotate(76 958.4 486.3)" fill="#d7ccae"/>
<ellipse cx="573.0" cy="499.0" rx="2.6" ry="1.8" transform="rotate(72 573.0 499.0)" fill="#d7ccae"/>
<ellipse cx="588.7" cy="493.6" rx="3.6" ry="1.4" transform="rotate(22 588.7 493.6)" fill="#ddd4b9"/>
<ellipse cx="598.1" cy="496.9" rx="3.6" ry="1.1" transform="rotate(-56 598.1 496.9)" fill="#d7ccae"/>
<ellipse cx="601.5" cy="497.0" rx="3.5" ry="1.1" transform="rotate(6 601.5 497.0)" fill="#d7ccae"/>
<ellipse cx="614.6" cy="494.9" rx="3.5" ry="1.8" transform="rotate(60 614.6 494.9)" fill="#dbd1b4"/>
<ellipse cx="632.9" cy="495.8" rx="3.3" ry="1.7" transform="rotate(37 632.9 495.8)" fill="#d7ccae"/>
<ellipse cx="635.5" cy="493.6" rx="2.0" ry="1.7" transform="rotate(-44 635.5 493.6)" fill="#dbd1b4"/>
<ellipse cx="644.5" cy="496.0" rx="3.5" ry="1.6" transform="rotate(-30 644.5 496.0)" fill="#e0d8c0"/>
<ellipse cx="653.4" cy="494.8" rx="3.6" ry="1.4" transform="rotate(64 653.4 494.8)" fill="#d7ccae"/>
<ellipse cx="668.4" cy="495.7" rx="3.7" ry="1.2" transform="rotate(-47 668.4 495.7)" fill="#d7ccae"/>
<ellipse cx="685.5" cy="496.4" rx="3.0" ry="1.0" transform="rotate(-59 685.5 496.4)" fill="#dbd1b4"/>
<ellipse cx="689.5" cy="494.7" rx="3.3" ry="1.1" transform="rotate(47 689.5 494.7)" fill="#dbd1b4"/>
<ellipse cx="704.6" cy="495.3" rx="3.7" ry="1.2" transform="rotate(-32 704.6 495.3)" fill="#d7ccae"/>
<ellipse cx="711.9" cy="498.9" rx="3.3" ry="1.0" transform="rotate(59 711.9 498.9)" fill="#e0d8c0"/>
<ellipse cx="721.7" cy="496.4" rx="2.3" ry="1.8" transform="rotate(8 721.7 496.4)" fill="#dbd1b4"/>
<ellipse cx="730.4" cy="493.1" rx="3.6" ry="1.8" transform="rotate(73 730.4 493.1)" fill="#e0d8c0"/>
<ellipse cx="741.6" cy="496.4" rx="3.1" ry="1.7" transform="rotate(-12 741.6 496.4)" fill="#d7ccae"/>
<ellipse cx="746.4" cy="494.4" rx="3.1" ry="1.0" transform="rotate(44 746.4 494.4)" fill="#d7ccae"/>
<ellipse cx="755.1" cy="494.0" rx="2.9" ry="1.2" transform="rotate(52 755.1 494.0)" fill="#ddd4b9"/>
<ellipse cx="760.0" cy="498.5" rx="3.0" ry="1.6" transform="rotate(40 760.0 498.5)" fill="#ddd4b9"/>
<ellipse cx="770.3" cy="498.7" rx="2.1" ry="1.1" transform="rotate(47 770.3 498.7)" fill="#e0d8c0"/>
<ellipse cx="777.6" cy="495.8" rx="3.8" ry="1.3" transform="rotate(43 777.6 495.8)" fill="#ddd4b9"/>
<ellipse cx="792.5" cy="495.6" rx="3.1" ry="1.4" transform="rotate(-57 792.5 495.6)" fill="#d7ccae"/>
<ellipse cx="797.9" cy="494.8" rx="3.5" ry="1.7" transform="rotate(15 797.9 494.8)" fill="#e0d8c0"/>
<ellipse cx="809.7" cy="495.8" rx="3.0" ry="1.1" transform="rotate(-53 809.7 495.8)" fill="#dbd1b4"/>
<ellipse cx="812.9" cy="495.3" rx="2.2" ry="1.7" transform="rotate(-26 812.9 495.3)" fill="#e0d8c0"/>
<ellipse cx="821.5" cy="495.8" rx="3.0" ry="1.0" transform="rotate(46 821.5 495.8)" fill="#e0d8c0"/>
<ellipse cx="833.6" cy="495.6" rx="3.0" ry="1.6" transform="rotate(38 833.6 495.6)" fill="#ddd4b9"/>
<ellipse cx="841.8" cy="497.1" rx="2.6" ry="1.5" transform="rotate(-45 841.8 497.1)" fill="#ddd4b9"/>
<ellipse cx="848.1" cy="495.4" rx="2.2" ry="1.8" transform="rotate(48 848.1 495.4)" fill="#dbd1b4"/>
<ellipse cx="855.3" cy="497.9" rx="2.5" ry="1.5" transform="rotate(-77 855.3 497.9)" fill="#d7ccae"/>
<ellipse cx="862.3" cy="495.9" rx="2.7" ry="1.5" transform="rotate(46 862.3 495.9)" fill="#d7ccae"/>
<ellipse cx="865.2" cy="497.8" rx="3.4" ry="1.6" transform="rotate(-78 865.2 497.8)" fill="#d7ccae"/>
<ellipse cx="881.0" cy="493.4" rx="3.3" ry="1.1" transform="rotate(-30 881.0 493.4)" fill="#ddd4b9"/>
<ellipse cx="885.9" cy="494.6" rx="3.3" ry="1.8" transform="rotate(72 885.9 494.6)" fill="#dbd1b4"/>
<ellipse cx="897.1" cy="493.8" rx="2.1" ry="1.4" transform="rotate(37 897.1 493.8)" fill="#e0d8c0"/>
<ellipse cx="899.7" cy="498.3" rx="3.1" ry="1.9" transform="rotate(-74 899.7 498.3)" fill="#dbd1b4"/>
<ellipse cx="906.9" cy="493.2" rx="3.2" ry="1.1" transform="rotate(-6 906.9 493.2)" fill="#dbd1b4"/>
<ellipse cx="913.8" cy="496.7" rx="3.7" ry="1.3" transform="rotate(77 913.8 496.7)" fill="#e0d8c0"/>
<ellipse cx="921.5" cy="495.4" rx="2.8" ry="1.0" transform="rotate(28 921.5 495.4)" fill="#ddd4b9"/>
<ellipse cx="927.4" cy="498.4" rx="3.1" ry="1.6" transform="rotate(-9 927.4 498.4)" fill="#dbd1b4"/>
<ellipse cx="940.0" cy="495.6" rx="3.1" ry="1.6" transform="rotate(2 940.0 495.6)" fill="#ddd4b9"/>
<ellipse cx="952.0" cy="498.5" rx="2.2" ry="1.1" transform="rotate(-19 952.0 498.5)" fill="#dbd1b4"/>
<ellipse cx="956.6" cy="498.6" rx="3.7" ry="1.8" transform="rotate(-22 956.6 498.6)" fill="#ddd4b9"/>
<ellipse cx="571.5" cy="504.6" rx="3.5" ry="1.9" transform="rotate(30 571.5 504.6)" fill="#d7ccae"/>
<ellipse cx="576.7" cy="503.2" rx="2.6" ry="1.5" transform="rotate(7 576.7 503.2)" fill="#d7ccae"/>
<ellipse cx="584.8" cy="505.8" rx="3.5" ry="1.0" transform="rotate(-12 584.8 505.8)" fill="#dbd1b4"/>
<ellipse cx="589.8" cy="505.3" rx="2.7" ry="1.8" transform="rotate(-66 589.8 505.3)" fill="#ddd4b9"/>
<ellipse cx="593.8" cy="501.4" rx="3.5" ry="1.4" transform="rotate(36 593.8 501.4)" fill="#d7ccae"/>
<ellipse cx="600.4" cy="502.5" rx="2.0" ry="1.7" transform="rotate(-32 600.4 502.5)" fill="#dbd1b4"/>
<ellipse cx="610.7" cy="501.4" rx="3.6" ry="1.8" transform="rotate(80 610.7 501.4)" fill="#e0d8c0"/>
<ellipse cx="618.2" cy="504.0" rx="2.5" ry="1.6" transform="rotate(-29 618.2 504.0)" fill="#e0d8c0"/>
<ellipse cx="626.2" cy="500.0" rx="3.4" ry="1.3" transform="rotate(16 626.2 500.0)" fill="#ddd4b9"/>
<ellipse cx="635.5" cy="502.8" rx="2.0" ry="1.1" transform="rotate(47 635.5 502.8)" fill="#dbd1b4"/>
<ellipse cx="648.0" cy="501.5" rx="3.1" ry="1.9" transform="rotate(23 648.0 501.5)" fill="#dbd1b4"/>
<ellipse cx="658.3" cy="504.9" rx="2.3" ry="1.8" transform="rotate(-44 658.3 504.9)" fill="#ddd4b9"/>
<ellipse cx="662.7" cy="505.3" rx="3.6" ry="1.5" transform="rotate(75 662.7 505.3)" fill="#dbd1b4"/>
<ellipse cx="686.5" cy="503.9" rx="2.4" ry="1.4" transform="rotate(52 686.5 503.9)" fill="#ddd4b9"/>
<ellipse cx="694.0" cy="500.7" rx="3.0" ry="1.4" transform="rotate(-53 694.0 500.7)" fill="#ddd4b9"/>
<ellipse cx="705.4" cy="500.3" rx="3.7" ry="1.3" transform="rotate(-25 705.4 500.3)" fill="#dbd1b4"/>
<ellipse cx="724.7" cy="503.1" rx="2.0" ry="1.2" transform="rotate(-60 724.7 503.1)" fill="#d7ccae"/>
<ellipse cx="731.9" cy="502.0" rx="3.7" ry="1.6" transform="rotate(-3 731.9 502.0)" fill="#ddd4b9"/>
<ellipse cx="739.3" cy="505.0" rx="2.6" ry="1.5" transform="rotate(-32 739.3 505.0)" fill="#ddd4b9"/>
<ellipse cx="747.1" cy="503.3" rx="2.4" ry="1.1" transform="rotate(2 747.1 503.3)" fill="#dbd1b4"/>
<ellipse cx="754.1" cy="501.2" rx="2.5" ry="1.1" transform="rotate(-49 754.1 501.2)" fill="#dbd1b4"/>
<ellipse cx="758.0" cy="505.7" rx="2.5" ry="1.8" transform="rotate(31 758.0 505.7)" fill="#e0d8c0"/>
<ellipse cx="765.3" cy="504.1" rx="2.3" ry="1.5" transform="rotate(78 765.3 504.1)" fill="#ddd4b9"/>
<ellipse cx="770.6" cy="505.4" rx="3.6" ry="1.5" transform="rotate(-28 770.6 505.4)" fill="#e0d8c0"/>
<ellipse cx="779.2" cy="504.0" rx="3.5" ry="1.9" transform="rotate(-62 779.2 504.0)" fill="#d7ccae"/>
<ellipse cx="790.5" cy="499.9" rx="2.7" ry="1.5" transform="rotate(-18 790.5 499.9)" fill="#d7ccae"/>
<ellipse cx="801.6" cy="503.1" rx="3.6" ry="1.2" transform="rotate(-57 801.6 503.1)" fill="#ddd4b9"/>
<ellipse cx="804.9" cy="500.4" rx="2.2" ry="1.3" transform="rotate(11 804.9 500.4)" fill="#dbd1b4"/>
<ellipse cx="814.2" cy="502.3" rx="2.0" ry="1.0" transform="rotate(-12 814.2 502.3)" fill="#ddd4b9"/>
<ellipse cx="826.5" cy="504.5" rx="3.0" ry="1.4" transform="rotate(-4 826.5 504.5)" fill="#dbd1b4"/>
<ellipse cx="832.5" cy="503.8" rx="2.8" ry="1.4" transform="rotate(68 832.5 503.8)" fill="#ddd4b9"/>
<ellipse cx="839.2" cy="501.3" rx="3.3" ry="1.3" transform="rotate(-67 839.2 501.3)" fill="#d7ccae"/>
<ellipse cx="845.2" cy="504.5" rx="3.2" ry="1.1" transform="rotate(-11 845.2 504.5)" fill="#dbd1b4"/>
<ellipse cx="855.9" cy="502.4" rx="2.1" ry="1.1" transform="rotate(56 855.9 502.4)" fill="#ddd4b9"/>
<ellipse cx="863.4" cy="504.6" rx="2.1" ry="1.0" transform="rotate(3 863.4 504.6)" fill="#ddd4b9"/>
<ellipse cx="868.3" cy="500.8" rx="2.8" ry="1.6" transform="rotate(-65 868.3 500.8)" fill="#e0d8c0"/>
<ellipse cx="872.0" cy="501.1" rx="2.3" ry="1.1" transform="rotate(30 872.0 501.1)" fill="#d7ccae"/>
<ellipse cx="880.8" cy="501.4" rx="2.4" ry="1.4" transform="rotate(30 880.8 501.4)" fill="#e0d8c0"/>
<ellipse cx="886.0" cy="500.3" rx="2.3" ry="1.2" transform="rotate(21 886.0 500.3)" fill="#e0d8c0"/>
<ellipse cx="895.4" cy="502.7" rx="3.2" ry="1.4" transform="rotate(49 895.4 502.7)" fill="#d7ccae"/>
<ellipse cx="906.7" cy="500.2" rx="3.2" ry="1.0" transform="rotate(-50 906.7 500.2)" fill="#dbd1b4"/>
<ellipse cx="917.6" cy="504.6" rx="3.4" ry="1.2" transform="rotate(-45 917.6 504.6)" fill="#d7ccae"/>
<ellipse cx="921.7" cy="504.0" rx="3.3" ry="1.2" transform="rotate(77 921.7 504.0)" fill="#e0d8c0"/>
<ellipse cx="927.4" cy="500.5" rx="2.8" ry="1.2" transform="rotate(65 927.4 500.5)" fill="#d7ccae"/>
<ellipse cx="937.5" cy="500.4" rx="3.2" ry="1.0" transform="rotate(-73 937.5 500.4)" fill="#d7ccae"/>
<ellipse cx="940.5" cy="501.6" rx="3.5" ry="1.7" transform="rotate(9 940.5 501.6)" fill="#e0d8c0"/>
<ellipse cx="957.0" cy="500.9" rx="2.8" ry="1.3" transform="rotate(-20 957.0 500.9)" fill="#ddd4b9"/>
<ellipse cx="548.2" cy="510.2" rx="2.5" ry="1.1" transform="rotate(21 548.2 510.2)" fill="#e0d8c0"/>
<ellipse cx="557.1" cy="509.7" rx="3.6" ry="1.4" transform="rotate(-20 557.1 509.7)" fill="#d7ccae"/>
<ellipse cx="560.9" cy="511.6" rx="2.4" ry="1.3" transform="rotate(29 560.9 511.6)" fill="#e0d8c0"/>
<ellipse cx="571.2" cy="510.9" rx="2.1" ry="1.3" transform="rotate(25 571.2 510.9)" fill="#ddd4b9"/>
<ellipse cx="578.8" cy="509.2" rx="2.4" ry="1.3" transform="rotate(-77 578.8 509.2)" fill="#dbd1b4"/>
<ellipse cx="581.6" cy="509.0" rx="3.1" ry="1.8" transform="rotate(59 581.6 509.0)" fill="#d7ccae"/>
<ellipse cx="591.3" cy="507.9" rx="2.2" ry="1.7" transform="rotate(38 591.3 507.9)" fill="#e0d8c0"/>
<ellipse cx="600.2" cy="507.3" rx="2.7" ry="1.9" transform="rotate(-34 600.2 507.3)" fill="#ddd4b9"/>
<ellipse cx="614.7" cy="507.5" rx="3.6" ry="1.8" transform="rotate(-27 614.7 507.5)" fill="#ddd4b9"/>
<ellipse cx="625.8" cy="509.2" rx="3.4" ry="1.3" transform="rotate(-61 625.8 509.2)" fill="#d7ccae"/>
<ellipse cx="629.8" cy="509.0" rx="2.4" ry="1.0" transform="rotate(-18 629.8 509.0)" fill="#e0d8c0"/>
<ellipse cx="641.4" cy="508.5" rx="2.0" ry="1.6" transform="rotate(-47 641.4 508.5)" fill="#ddd4b9"/>
<ellipse cx="659.9" cy="508.0" rx="3.0" ry="1.3" transform="rotate(-74 659.9 508.0)" fill="#d7ccae"/>
<ellipse cx="664.3" cy="511.7" rx="2.8" ry="1.2" transform="rotate(-10 664.3 511.7)" fill="#e0d8c0"/>
<ellipse cx="673.5" cy="506.6" rx="2.6" ry="1.3" transform="rotate(25 673.5 506.6)" fill="#e0d8c0"/>
<ellipse cx="676.2" cy="510.1" rx="2.0" ry="1.7" transform="rotate(50 676.2 510.1)" fill="#d7ccae"/>
<ellipse cx="684.4" cy="510.9" rx="2.0" ry="1.6" transform="rotate(-6 684.4 510.9)" fill="#ddd4b9"/>
<ellipse cx="693.1" cy="511.7" rx="2.7" ry="1.7" transform="rotate(-63 693.1 511.7)" fill="#d7ccae"/>
<ellipse cx="716.7" cy="506.6" rx="2.8" ry="1.8" transform="rotate(-24 716.7 506.6)" fill="#d7ccae"/>
<ellipse cx="728.3" cy="507.6" rx="2.9" ry="1.3" transform="rotate(58 728.3 507.6)" fill="#ddd4b9"/>
<ellipse cx="730.5" cy="508.9" rx="3.1" ry="1.5" transform="rotate(-36 730.5 508.9)" fill="#dbd1b4"/>
<ellipse cx="739.7" cy="510.9" rx="2.6" ry="1.9" transform="rotate(23 739.7 510.9)" fill="#ddd4b9"/>
<ellipse cx="744.8" cy="511.7" rx="2.7" ry="1.9" transform="rotate(-22 744.8 511.7)" fill="#e0d8c0"/>
<ellipse cx="749.6" cy="512.7" rx="2.9" ry="1.3" transform="rotate(-39 749.6 512.7)" fill="#ddd4b9"/>
<ellipse cx="761.2" cy="509.3" rx="2.7" ry="1.7" transform="rotate(-75 761.2 509.3)" fill="#ddd4b9"/>
<ellipse cx="768.6" cy="508.5" rx="2.1" ry="1.5" transform="rotate(48 768.6 508.5)" fill="#ddd4b9"/>
<ellipse cx="770.4" cy="507.6" rx="3.4" ry="1.4" transform="rotate(32 770.4 507.6)" fill="#ddd4b9"/>
<ellipse cx="780.8" cy="511.9" rx="2.9" ry="1.6" transform="rotate(37 780.8 511.9)" fill="#dbd1b4"/>
<ellipse cx="784.4" cy="508.4" rx="3.0" ry="1.5" transform="rotate(45 784.4 508.4)" fill="#ddd4b9"/>
<ellipse cx="794.5" cy="511.1" rx="2.2" ry="1.8" transform="rotate(-1 794.5 511.1)" fill="#ddd4b9"/>
<ellipse cx="802.2" cy="510.5" rx="3.1" ry="1.0" transform="rotate(69 802.2 510.5)" fill="#ddd4b9"/>
<ellipse cx="805.6" cy="511.7" rx="3.5" ry="1.5" transform="rotate(-77 805.6 511.7)" fill="#ddd4b9"/>
<ellipse cx="813.4" cy="511.6" rx="2.9" ry="1.8" transform="rotate(-48 813.4 511.6)" fill="#d7ccae"/>
<ellipse cx="821.2" cy="507.3" rx="3.6" ry="1.0" transform="rotate(35 821.2 507.3)" fill="#dbd1b4"/>
<ellipse cx="825.3" cy="508.3" rx="3.6" ry="1.8" transform="rotate(59 825.3 508.3)" fill="#e0d8c0"/>
<ellipse cx="834.8" cy="512.5" rx="2.0" ry="1.0" transform="rotate(-34 834.8 512.5)" fill="#d7ccae"/>
<ellipse cx="838.5" cy="512.2" rx="3.1" ry="1.8" transform="rotate(-57 838.5 512.2)" fill="#e0d8c0"/>
<ellipse cx="847.0" cy="511.5" rx="3.7" ry="1.2" transform="rotate(-37 847.0 511.5)" fill="#ddd4b9"/>
<ellipse cx="852.4" cy="508.4" rx="2.2" ry="1.4" transform="rotate(47 852.4 508.4)" fill="#e0d8c0"/>
<ellipse cx="861.5" cy="509.6" rx="3.3" ry="1.7" transform="rotate(60 861.5 509.6)" fill="#d7ccae"/>
<ellipse cx="867.6" cy="507.5" rx="3.6" ry="1.8" transform="rotate(-55 867.6 507.5)" fill="#ddd4b9"/>
<ellipse cx="880.0" cy="512.3" rx="2.4" ry="1.5" transform="rotate(64 880.0 512.3)" fill="#d7ccae"/>
<ellipse cx="887.2" cy="510.4" rx="2.7" ry="1.5" transform="rotate(-45 887.2 510.4)" fill="#e0d8c0"/>
<ellipse cx="897.3" cy="511.9" rx="3.4" ry="1.1" transform="rotate(8 897.3 511.9)" fill="#ddd4b9"/>
<ellipse cx="903.4" cy="507.6" rx="2.2" ry="1.9" transform="rotate(-10 903.4 507.6)" fill="#e0d8c0"/>
<ellipse cx="913.9" cy="507.2" rx="2.9" ry="1.1" transform="rotate(-45 913.9 507.2)" fill="#e0d8c0"/>
<ellipse cx="921.9" cy="507.5" rx="3.0" ry="1.2" transform="rotate(-4 921.9 507.5)" fill="#ddd4b9"/>
<ellipse cx="929.0" cy="509.6" rx="2.0" ry="1.8" transform="rotate(-48 929.0 509.6)" fill="#dbd1b4"/>
<ellipse cx="938.6" cy="510.5" rx="2.8" ry="1.8" transform="rotate(78 938.6 510.5)" fill="#ddd4b9"/>
<ellipse cx="945.7" cy="507.6" rx="2.2" ry="1.7" transform="rotate(77 945.7 507.6)" fill="#ddd4b9"/>
<ellipse cx="951.0" cy="507.5" rx="3.3" ry="1.1" transform="rotate(54 951.0 507.5)" fill="#dbd1b4"/>
<ellipse cx="954.7" cy="507.8" rx="3.5" ry="1.2" transform="rotate(-51 954.7 507.8)" fill="#dbd1b4"/>
<ellipse cx="550.0" cy="514.0" rx="2.0" ry="1.3" transform="rotate(-63 550.0 514.0)" fill="#e0d8c0"/>
<ellipse cx="560.4" cy="513.6" rx="2.7" ry="1.8" transform="rotate(-17 560.4 513.6)" fill="#d7ccae"/>
<ellipse cx="680.5" cy="514.2" rx="2.0" ry="1.3" transform="rotate(-19 680.5 514.2)" fill="#d7ccae"/>
<ellipse cx="684.7" cy="514.8" rx="2.1" ry="1.1" transform="rotate(-73 684.7 514.8)" fill="#d7ccae"/>
<ellipse cx="690.2" cy="516.7" rx="2.2" ry="1.6" transform="rotate(-69 690.2 516.7)" fill="#d7ccae"/>
<ellipse cx="695.3" cy="517.8" rx="2.3" ry="1.3" transform="rotate(0 695.3 517.8)" fill="#e0d8c0"/>
<ellipse cx="707.4" cy="514.1" rx="2.9" ry="1.4" transform="rotate(-63 707.4 514.1)" fill="#ddd4b9"/>
<ellipse cx="711.1" cy="514.6" rx="3.3" ry="1.3" transform="rotate(3 711.1 514.6)" fill="#d7ccae"/>
<ellipse cx="720.6" cy="516.9" rx="2.5" ry="1.8" transform="rotate(-55 720.6 516.9)" fill="#e0d8c0"/>
<ellipse cx="727.0" cy="515.0" rx="2.9" ry="1.4" transform="rotate(70 727.0 515.0)" fill="#ddd4b9"/>
<ellipse cx="729.9" cy="513.4" rx="3.1" ry="1.6" transform="rotate(46 729.9 513.4)" fill="#e0d8c0"/>
<ellipse cx="743.4" cy="515.2" rx="2.0" ry="1.3" transform="rotate(-60 743.4 515.2)" fill="#e0d8c0"/>
<ellipse cx="750.1" cy="513.5" rx="3.1" ry="1.7" transform="rotate(8 750.1 513.5)" fill="#dbd1b4"/>
<ellipse cx="757.2" cy="518.4" rx="2.4" ry="1.2" transform="rotate(54 757.2 518.4)" fill="#dbd1b4"/>
<ellipse cx="766.6" cy="519.3" rx="3.2" ry="1.3" transform="rotate(-71 766.6 519.3)" fill="#dbd1b4"/>
<ellipse cx="770.6" cy="513.7" rx="3.0" ry="1.6" transform="rotate(-36 770.6 513.7)" fill="#e0d8c0"/>
<ellipse cx="778.5" cy="516.9" rx="2.8" ry="1.3" transform="rotate(8 778.5 516.9)" fill="#dbd1b4"/>
<ellipse cx="784.1" cy="516.5" rx="2.6" ry="1.3" transform="rotate(53 784.1 516.5)" fill="#d7ccae"/>
<ellipse cx="794.7" cy="515.6" rx="3.6" ry="1.2" transform="rotate(77 794.7 515.6)" fill="#ddd4b9"/>
<ellipse cx="803.2" cy="519.1" rx="3.4" ry="1.5" transform="rotate(-47 803.2 519.1)" fill="#ddd4b9"/>
<ellipse cx="808.9" cy="516.8" rx="3.5" ry="1.1" transform="rotate(-39 808.9 516.8)" fill="#ddd4b9"/>
<ellipse cx="813.2" cy="514.4" rx="2.5" ry="1.7" transform="rotate(-50 813.2 514.4)" fill="#e0d8c0"/>
<ellipse cx="826.7" cy="515.9" rx="3.2" ry="1.7" transform="rotate(24 826.7 515.9)" fill="#e0d8c0"/>
<ellipse cx="835.2" cy="515.8" rx="2.7" ry="1.1" transform="rotate(2 835.2 515.8)" fill="#d7ccae"/>
<ellipse cx="844.0" cy="516.2" rx="2.4" ry="1.7" transform="rotate(34 844.0 516.2)" fill="#ddd4b9"/>
<ellipse cx="849.8" cy="518.7" rx="3.4" ry="1.4" transform="rotate(-30 849.8 518.7)" fill="#d7ccae"/>
<ellipse cx="857.6" cy="518.8" rx="3.0" ry="1.1" transform="rotate(-66 857.6 518.8)" fill="#ddd4b9"/>
<ellipse cx="861.3" cy="518.6" rx="2.2" ry="1.5" transform="rotate(77 861.3 518.6)" fill="#d7ccae"/>
<ellipse cx="871.1" cy="515.1" rx="2.4" ry="1.8" transform="rotate(72 871.1 515.1)" fill="#ddd4b9"/>
<ellipse cx="886.9" cy="514.9" rx="2.2" ry="1.6" transform="rotate(13 886.9 514.9)" fill="#dbd1b4"/>
<ellipse cx="906.7" cy="518.5" rx="3.3" ry="1.7" transform="rotate(31 906.7 518.5)" fill="#ddd4b9"/>
<ellipse cx="917.7" cy="514.3" rx="2.5" ry="1.3" transform="rotate(-49 917.7 514.3)" fill="#d7ccae"/>
<ellipse cx="923.2" cy="519.0" rx="3.0" ry="1.3" transform="rotate(68 923.2 519.0)" fill="#d7ccae"/>
<ellipse cx="929.4" cy="513.6" rx="3.3" ry="1.8" transform="rotate(-38 929.4 513.6)" fill="#d7ccae"/>
<ellipse cx="938.9" cy="518.1" rx="2.8" ry="1.7" transform="rotate(-29 938.9 518.1)" fill="#dbd1b4"/>
<ellipse cx="944.2" cy="514.4" rx="3.3" ry="1.6" transform="rotate(33 944.2 514.4)" fill="#ddd4b9"/>
<ellipse cx="741.0" cy="525.6" rx="3.0" ry="1.3" transform="rotate(-33 741.0 525.6)" fill="#dbd1b4"/>
<ellipse cx="753.0" cy="525.7" rx="3.8" ry="1.0" transform="rotate(-6 753.0 525.7)" fill="#ddd4b9"/>
<ellipse cx="760.2" cy="523.1" rx="2.9" ry="1.6" transform="rotate(72 760.2 523.1)" fill="#dbd1b4"/>
<ellipse cx="764.0" cy="524.5" rx="3.4" ry="1.2" transform="rotate(66 764.0 524.5)" fill="#ddd4b9"/>
<ellipse cx="774.8" cy="521.6" rx="2.4" ry="1.6" transform="rotate(5 774.8 521.6)" fill="#d7ccae"/>
<ellipse cx="780.5" cy="521.0" rx="3.5" ry="1.1" transform="rotate(-10 780.5 521.0)" fill="#e0d8c0"/>
<ellipse cx="789.4" cy="521.1" rx="3.5" ry="1.9" transform="rotate(-34 789.4 521.1)" fill="#d7ccae"/>
<ellipse cx="790.5" cy="521.8" rx="3.7" ry="1.1" transform="rotate(55 790.5 521.8)" fill="#e0d8c0"/>
<ellipse cx="802.3" cy="524.3" rx="2.6" ry="1.1" transform="rotate(-19 802.3 524.3)" fill="#d7ccae"/>
<ellipse cx="816.0" cy="523.0" rx="2.9" ry="1.7" transform="rotate(-61 816.0 523.0)" fill="#ddd4b9"/>
<ellipse cx="822.5" cy="521.5" rx="3.5" ry="1.7" transform="rotate(-64 822.5 521.5)" fill="#ddd4b9"/>
<ellipse cx="896.5" cy="520.9" rx="3.4" ry="1.3" transform="rotate(-64 896.5 520.9)" fill="#d7ccae"/>
<ellipse cx="904.8" cy="524.3" rx="3.0" ry="1.4" transform="rotate(-65 904.8 524.3)" fill="#e0d8c0"/>
<ellipse cx="911.3" cy="521.1" rx="3.3" ry="1.1" transform="rotate(27 911.3 521.1)" fill="#dbd1b4"/>
<ellipse cx="913.5" cy="522.9" rx="3.7" ry="1.6" transform="rotate(-61 913.5 522.9)" fill="#e0d8c0"/>
<ellipse cx="921.6" cy="521.6" rx="3.3" ry="1.7" transform="rotate(5 921.6 521.6)" fill="#ddd4b9"/>
<ellipse cx="931.7" cy="520.6" rx="2.5" ry="1.1" transform="rotate(-10 931.7 520.6)" fill="#e0d8c0"/>
<ellipse cx="881.7" cy="306.9" rx="3.0" ry="1.5" transform="rotate(12 881.7 306.9)" fill="#e0d7c0"/>
<ellipse cx="895.1" cy="301.9" rx="2.3" ry="1.6" transform="rotate(13 895.1 301.9)" fill="#e0d7c0"/>
<ellipse cx="912.6" cy="304.1" rx="3.5" ry="1.6" transform="rotate(78 912.6 304.1)" fill="#e0d7c0"/>
<ellipse cx="919.0" cy="301.5" rx="3.1" ry="2.1" transform="rotate(10 919.0 301.5)" fill="#ddd3ba"/>
<ellipse cx="931.3" cy="305.5" rx="2.8" ry="1.2" transform="rotate(-46 931.3 305.5)" fill="#e0d7c0"/>
<ellipse cx="941.3" cy="302.5" rx="3.3" ry="1.1" transform="rotate(-69 941.3 302.5)" fill="#ddd3ba"/>
<ellipse cx="856.2" cy="311.6" rx="2.6" ry="1.3" transform="rotate(51 856.2 311.6)" fill="#e0d7c0"/>
<ellipse cx="887.1" cy="308.5" rx="2.9" ry="1.4" transform="rotate(-42 887.1 308.5)" fill="#ddd3ba"/>
<ellipse cx="911.4" cy="313.1" rx="3.2" ry="1.7" transform="rotate(-45 911.4 313.1)" fill="#ddd3ba"/>
<ellipse cx="938.0" cy="315.9" rx="4.0" ry="1.1" transform="rotate(7 938.0 315.9)" fill="#e0d7c0"/>
<ellipse cx="949.1" cy="313.2" rx="3.1" ry="1.7" transform="rotate(16 949.1 313.2)" fill="#ddd3ba"/>
<ellipse cx="855.6" cy="321.3" rx="3.7" ry="1.3" transform="rotate(-30 855.6 321.3)" fill="#e0d7c0"/>
<ellipse cx="873.5" cy="318.1" rx="2.8" ry="1.5" transform="rotate(14 873.5 318.1)" fill="#ddd3ba"/>
<ellipse cx="883.4" cy="323.1" rx="3.5" ry="1.6" transform="rotate(63 883.4 323.1)" fill="#e0d7c0"/>
<ellipse cx="899.1" cy="319.6" rx="2.6" ry="1.5" transform="rotate(64 899.1 319.6)" fill="#ddd3ba"/>
<ellipse cx="913.9" cy="322.2" rx="3.2" ry="2.1" transform="rotate(-58 913.9 322.2)" fill="#e0d7c0"/>
<ellipse cx="917.9" cy="319.9" rx="2.6" ry="1.4" transform="rotate(13 917.9 319.9)" fill="#e0d7c0"/>
<ellipse cx="930.0" cy="319.9" rx="3.8" ry="1.1" transform="rotate(-13 930.0 319.9)" fill="#e0d7c0"/>
<ellipse cx="939.5" cy="320.8" rx="2.5" ry="2.0" transform="rotate(17 939.5 320.8)" fill="#ddd3ba"/>
<ellipse cx="945.9" cy="319.0" rx="2.6" ry="1.6" transform="rotate(-59 945.9 319.0)" fill="#e0d7c0"/>
<ellipse cx="830.4" cy="333.9" rx="3.6" ry="1.1" transform="rotate(-36 830.4 333.9)" fill="#ddd3ba"/>
<ellipse cx="852.7" cy="331.1" rx="2.5" ry="1.5" transform="rotate(-31 852.7 331.1)" fill="#e0d7c0"/>
<ellipse cx="857.8" cy="333.5" rx="3.0" ry="2.1" transform="rotate(-25 857.8 333.5)" fill="#e0d7c0"/>
<ellipse cx="870.2" cy="327.6" rx="4.1" ry="1.2" transform="rotate(56 870.2 327.6)" fill="#ddd3ba"/>
<ellipse cx="850.8" cy="339.9" rx="4.0" ry="1.5" transform="rotate(15 850.8 339.9)" fill="#e0d7c0"/>
<ellipse cx="865.1" cy="335.3" rx="4.2" ry="1.8" transform="rotate(-46 865.1 335.3)" fill="#ddd3ba"/>
<ellipse cx="831.0" cy="351.5" rx="2.4" ry="1.2" transform="rotate(68 831.0 351.5)" fill="#e0d7c0"/>
<ellipse cx="840.6" cy="351.2" rx="3.2" ry="2.1" transform="rotate(-46 840.6 351.2)" fill="#ddd3ba"/>
<ellipse cx="845.7" cy="345.8" rx="2.3" ry="1.3" transform="rotate(-65 845.7 345.8)" fill="#e0d7c0"/>
<ellipse cx="832.2" cy="358.3" rx="3.2" ry="1.9" transform="rotate(12 832.2 358.3)" fill="#ddd3ba"/>
<ellipse cx="935.5" cy="382.3" rx="2.9" ry="1.9" transform="rotate(33 935.5 382.3)" fill="#e0d7c0"/>
<ellipse cx="945.4" cy="383.8" rx="2.6" ry="1.8" transform="rotate(-9 945.4 383.8)" fill="#e0d7c0"/>
<ellipse cx="911.0" cy="388.3" rx="3.6" ry="2.1" transform="rotate(14 911.0 388.3)" fill="#e0d7c0"/>
<ellipse cx="922.7" cy="389.6" rx="3.1" ry="1.9" transform="rotate(-51 922.7 389.6)" fill="#e0d7c0"/>
<ellipse cx="936.8" cy="390.8" rx="3.9" ry="1.1" transform="rotate(-40 936.8 390.8)" fill="#ddd3ba"/>
<ellipse cx="943.1" cy="387.7" rx="2.4" ry="1.7" transform="rotate(-53 943.1 387.7)" fill="#e0d7c0"/>
<ellipse cx="922.3" cy="399.6" rx="3.4" ry="1.7" transform="rotate(-9 922.3 399.6)" fill="#ddd3ba"/>
<ellipse cx="948.2" cy="396.9" rx="3.9" ry="1.7" transform="rotate(-52 948.2 396.9)" fill="#e0d7c0"/>
<ellipse cx="922.9" cy="408.6" rx="3.3" ry="1.3" transform="rotate(-52 922.9 408.6)" fill="#e0d7c0"/>
<ellipse cx="936.9" cy="409.2" rx="3.5" ry="1.8" transform="rotate(-50 936.9 409.2)" fill="#e0d7c0"/>
<ellipse cx="938.7" cy="403.8" rx="3.2" ry="1.7" transform="rotate(78 938.7 403.8)" fill="#e0d7c0"/>
<ellipse cx="915.5" cy="417.3" rx="2.2" ry="1.7" transform="rotate(59 915.5 417.3)" fill="#ddd3ba"/>
<ellipse cx="926.6" cy="416.7" rx="2.7" ry="2.1" transform="rotate(41 926.6 416.7)" fill="#e0d7c0"/>
<ellipse cx="932.6" cy="418.8" rx="4.2" ry="1.9" transform="rotate(-16 932.6 418.8)" fill="#e0d7c0"/>
<ellipse cx="921.8" cy="427.3" rx="3.0" ry="1.7" transform="rotate(25 921.8 427.3)" fill="#e0d7c0"/>
<ellipse cx="936.5" cy="423.0" rx="3.5" ry="1.8" transform="rotate(2 936.5 423.0)" fill="#ddd3ba"/>
<ellipse cx="942.6" cy="428.2" rx="2.3" ry="1.5" transform="rotate(2 942.6 428.2)" fill="#ddd3ba"/>
<ellipse cx="917.7" cy="430.1" rx="2.5" ry="1.7" transform="rotate(45 917.7 430.1)" fill="#ddd3ba"/>
<ellipse cx="936.8" cy="434.1" rx="4.0" ry="1.7" transform="rotate(7 936.8 434.1)" fill="#e0d7c0"/>
<ellipse cx="940.5" cy="431.0" rx="3.0" ry="1.2" transform="rotate(-18 940.5 431.0)" fill="#e0d7c0"/>
<ellipse cx="933.6" cy="439.9" rx="2.4" ry="2.0" transform="rotate(-28 933.6 439.9)" fill="#e0d7c0"/>
<ellipse cx="938.1" cy="439.7" rx="4.1" ry="1.5" transform="rotate(72 938.1 439.7)" fill="#e0d7c0"/>
<ellipse cx="907.6" cy="451.0" rx="2.5" ry="1.9" transform="rotate(-6 907.6 451.0)" fill="#ddd3ba"/>
<ellipse cx="913.7" cy="450.6" rx="3.7" ry="2.0" transform="rotate(-23 913.7 450.6)" fill="#e0d7c0"/>
<ellipse cx="925.5" cy="450.8" rx="3.4" ry="1.5" transform="rotate(-58 925.5 450.8)" fill="#ddd3ba"/>
<ellipse cx="935.4" cy="450.4" rx="2.6" ry="2.1" transform="rotate(-74 935.4 450.4)" fill="#e0d7c0"/>
<ellipse cx="942.4" cy="452.3" rx="3.3" ry="1.2" transform="rotate(67 942.4 452.3)" fill="#ddd3ba"/>
<ellipse cx="952.5" cy="455.7" rx="3.4" ry="1.9" transform="rotate(-80 952.5 455.7)" fill="#ddd3ba"/>
<ellipse cx="912.9" cy="463.3" rx="3.3" ry="1.9" transform="rotate(-55 912.9 463.3)" fill="#e0d7c0"/>
<ellipse cx="927.8" cy="463.5" rx="3.9" ry="1.3" transform="rotate(-29 927.8 463.5)" fill="#e0d7c0"/>
<ellipse cx="936.4" cy="457.2" rx="2.5" ry="1.7" transform="rotate(-59 936.4 457.2)" fill="#e0d7c0"/>
<ellipse cx="916.7" cy="472.6" rx="4.2" ry="1.7" transform="rotate(-73 916.7 472.6)" fill="#ddd3ba"/>
<ellipse cx="923.7" cy="466.7" rx="2.7" ry="1.8" transform="rotate(24 923.7 466.7)" fill="#e0d7c0"/>
<ellipse cx="936.3" cy="472.7" rx="3.1" ry="1.4" transform="rotate(16 936.3 472.7)" fill="#e0d7c0"/>
<ellipse cx="948.7" cy="469.4" rx="3.2" ry="1.8" transform="rotate(7 948.7 469.4)" fill="#ddd3ba"/>
<ellipse cx="909.7" cy="476.7" rx="2.2" ry="1.4" transform="rotate(-71 909.7 476.7)" fill="#e0d7c0"/>
<ellipse cx="913.4" cy="480.4" rx="3.4" ry="1.4" transform="rotate(38 913.4 480.4)" fill="#ddd3ba"/>
<ellipse cx="923.8" cy="478.7" rx="2.3" ry="1.6" transform="rotate(19 923.8 478.7)" fill="#ddd3ba"/>
<ellipse cx="934.1" cy="479.1" rx="3.6" ry="2.0" transform="rotate(59 934.1 479.1)" fill="#ddd3ba"/>
<ellipse cx="947.9" cy="475.0" rx="2.9" ry="1.7" transform="rotate(-62 947.9 475.0)" fill="#e0d7c0"/>
<ellipse cx="932.7" cy="491.9" rx="2.6" ry="1.6" transform="rotate(-80 932.7 491.9)" fill="#ddd3ba"/>
<ellipse cx="927.6" cy="500.1" rx="3.8" ry="1.1" transform="rotate(-13 927.6 500.1)" fill="#e0d7c0"/>
<ellipse cx="931.0" cy="495.9" rx="2.7" ry="1.8" transform="rotate(24 931.0 495.9)" fill="#ddd3ba"/>
<ellipse cx="942.8" cy="495.7" rx="2.7" ry="1.2" transform="rotate(73 942.8 495.7)" fill="#e0d7c0"/>
<ellipse cx="950.6" cy="494.9" rx="3.6" ry="1.9" transform="rotate(70 950.6 494.9)" fill="#e0d7c0"/>
<ellipse cx="916.4" cy="508.8" rx="3.3" ry="1.9" transform="rotate(-48 916.4 508.8)" fill="#ddd3ba"/>
<ellipse cx="924.3" cy="508.9" rx="3.8" ry="1.9" transform="rotate(-25 924.3 508.9)" fill="#e0d7c0"/>
<ellipse cx="932.3" cy="506.7" rx="2.2" ry="1.2" transform="rotate(34 932.3 506.7)" fill="#ddd3ba"/>
<ellipse cx="939.0" cy="505.5" rx="3.6" ry="1.8" transform="rotate(34 939.0 505.5)" fill="#ddd3ba"/>
<ellipse cx="927.9" cy="512.6" rx="3.6" ry="1.2" transform="rotate(-44 927.9 512.6)" fill="#e0d7c0"/>
<ellipse cx="933.7" cy="511.9" rx="4.2" ry="2.0" transform="rotate(47 933.7 511.9)" fill="#e0d7c0"/>
<ellipse cx="676.9" cy="338.1" rx="3.1" ry="1.8" transform="rotate(18 676.9 338.1)" fill="#ded4b6"/>
<ellipse cx="685.0" cy="339.5" rx="2.4" ry="1.7" transform="rotate(64 685.0 339.5)" fill="#dbd0ae"/>
<ellipse cx="681.5" cy="343.4" rx="3.7" ry="1.7" transform="rotate(69 681.5 343.4)" fill="#ded4b6"/>
<ellipse cx="690.0" cy="341.5" rx="3.1" ry="1.1" transform="rotate(4 690.0 341.5)" fill="#dbd0ae"/>
<ellipse cx="648.3" cy="357.7" rx="3.4" ry="1.6" transform="rotate(-38 648.3 357.7)" fill="#d7cba8"/>
<ellipse cx="696.7" cy="356.0" rx="3.9" ry="1.1" transform="rotate(22 696.7 356.0)" fill="#ded4b6"/>
<ellipse cx="667.3" cy="359.1" rx="2.9" ry="1.2" transform="rotate(76 667.3 359.1)" fill="#ded4b6"/>
<ellipse cx="678.5" cy="359.0" rx="2.4" ry="1.8" transform="rotate(50 678.5 359.0)" fill="#d7cba8"/>
<ellipse cx="687.4" cy="359.9" rx="2.4" ry="1.9" transform="rotate(53 687.4 359.9)" fill="#dbd0ae"/>
<ellipse cx="668.1" cy="373.1" rx="2.6" ry="1.3" transform="rotate(-52 668.1 373.1)" fill="#d4c8a3"/>
<ellipse cx="675.1" cy="374.9" rx="3.5" ry="1.6" transform="rotate(52 675.1 374.9)" fill="#dbd0ae"/>
<ellipse cx="663.6" cy="377.7" rx="2.4" ry="1.1" transform="rotate(35 663.6 377.7)" fill="#d7cba8"/>
<ellipse cx="693.1" cy="379.1" rx="3.9" ry="1.7" transform="rotate(69 693.1 379.1)" fill="#dbd0ae"/>
<ellipse cx="648.7" cy="392.9" rx="2.7" ry="1.4" transform="rotate(65 648.7 392.9)" fill="#d4c8a3"/>
<ellipse cx="650.5" cy="401.9" rx="2.7" ry="1.4" transform="rotate(-56 650.5 401.9)" fill="#d4c8a3"/>
<ellipse cx="659.9" cy="398.9" rx="2.7" ry="2.0" transform="rotate(-7 659.9 398.9)" fill="#dbd0ae"/>
<ellipse cx="669.7" cy="398.9" rx="4.1" ry="1.6" transform="rotate(78 669.7 398.9)" fill="#d7cba8"/>
<ellipse cx="652.0" cy="411.3" rx="3.7" ry="1.3" transform="rotate(-25 652.0 411.3)" fill="#dbd0ae"/>
<ellipse cx="670.9" cy="406.2" rx="3.0" ry="1.2" transform="rotate(-13 670.9 406.2)" fill="#d4c8a3"/>
</g>

<rect x="925" y="285" width="50" height="260" fill="url(#rbFade)"/>


<!-- muscle -->
<path d="M406 240 L441 240 C442 262 444 280 450 292 C462 305 472 316 478 326 C484 340 490 360 497 380 C505 396 520 408 540 414 C560 418 585 419 602 420 C590 424 570 430 540 432 C515 432 498 426 488 418 C472 404 462 392 456 380 C448 365 443 350 438 340 C430 305 418 272 406 240 Z" fill="#f0a9b2"/>
<g clip-path="url(#muscleClip)" fill="none" stroke="#f9c8ce" stroke-width="1.4">
<path d="M410 238 C420 270 430 305 440 345 C448 372 462 395 490 412 C520 426 560 430 610 426"/>
<path d="M416 238 C426 270 436 305 446 340 C454 366 468 388 495 405 C525 419 565 424 610 423"/>
<path d="M423 238 C432 270 441 302 452 334 C461 360 476 382 502 398 C532 412 570 418 610 420"/>
<path d="M430 238 C438 268 447 298 458 328 C468 352 484 374 510 390 C540 404 575 412 610 417"/>
<path d="M436 238 C443 266 452 294 464 320 C475 344 492 366 518 382 C548 396 580 406 610 414"/>
</g>
<path d="M441 240 C442 262 444 280 450 292 C462 305 472 316 478 326 C484 340 490 360 497 380 C505 396 520 408 540 414 C560 418 585 419 602 420" fill="none" stroke="#de8c98" stroke-width="1.2"/>

<!-- upper yellow cartilage -->
<path d="M388 240 L406 240 C418 272 430 305 438 340 C443 350 448 365 456 380 C462 392 472 404 488 418 C498 426 515 432 540 432 C570 430 590 424 602 420 C620 414 650 412 686 420 L686 428 L686 426 C682.5 424.9 672.7 420.9 665.0 419.5 C657.3 418.1 647.8 417.4 640.0 417.5 C632.2 417.6 625.5 417.9 618.0 420.0 C610.5 422.1 603.0 426.3 595.0 430.0 C587.0 433.7 578.3 438.5 570.0 442.0 C561.7 445.5 553.3 448.5 545.0 451.0 C536.7 453.5 532.5 456.2 520.0 457.0 C507.5 457.8 488.3 457.5 470.0 456.0 C451.7 454.5 420.0 449.3 410.0 448.0 C395 440 384 425 380 410 L378 340 L400 333 L404 325 Z" fill="url(#yelG)"/>
<path d="M602 421 C625 413 655 411 686 420" fill="none" stroke="#f5cc40" stroke-width="3"/>
<!-- cartilage white streaks -->
<g stroke-linecap="round" fill="none">
<path d="M402 358 C404 375 406 392 409 406" stroke="#c9dde9" stroke-width="6.5"/>
<path d="M402 358 C404 375 406 392 409 406" stroke="#f4f9fc" stroke-width="4"/>
<path d="M418 440 C450 446 480 450 510 448" stroke="#c9dde9" stroke-width="6.5"/>
<path d="M418 440 C450 446 480 450 510 448" stroke="#f4f9fc" stroke-width="4"/>
<path d="M528 446 C538 445 546 444 552 442" stroke="#d8e4ec" stroke-width="5"/>
<path d="M528 446 C538 445 546 444 552 442" stroke="#f2f8fc" stroke-width="3"/>
</g>
<!-- yellow vein marks -->

<g transform="translate(405 338) scale(1)"><g fill="none" stroke="#f3ac1e" stroke-width="1.7" stroke-linecap="round">
<path d="M3 5 Q13 19 23 5"/><path d="M21 2 L23 5 L28 9"/>
<path d="M14 13 Q22 23 31 15"/><path d="M29 12 L31 15 L34 14"/>
<path d="M3 23 Q12 36 24 25"/><path d="M22 22 L24 25 L27 27"/>
<path d="M12 33 Q22 42 32 31"/><path d="M14 35 L13 44"/><path d="M30 33 L30 41"/>
</g></g><g transform="translate(410 393) scale(0.6)"><g fill="none" stroke="#f3ac1e" stroke-width="1.7" stroke-linecap="round">
<path d="M3 5 Q13 19 23 5"/><path d="M21 2 L23 5 L28 9"/>
<path d="M14 13 Q22 23 31 15"/><path d="M29 12 L31 15 L34 14"/>
<path d="M3 23 Q12 36 24 25"/><path d="M22 22 L24 25 L27 27"/>
<path d="M12 33 Q22 42 32 31"/><path d="M14 35 L13 44"/><path d="M30 33 L30 41"/>
</g></g><g transform="translate(460 414) scale(0.72)"><g fill="none" stroke="#f3ac1e" stroke-width="1.7" stroke-linecap="round">
<path d="M3 5 Q13 19 23 5"/><path d="M21 2 L23 5 L28 9"/>
<path d="M14 13 Q22 23 31 15"/><path d="M29 12 L31 15 L34 14"/>
<path d="M3 23 Q12 36 24 25"/><path d="M22 22 L24 25 L27 27"/>
<path d="M12 33 Q22 42 32 31"/><path d="M14 35 L13 44"/><path d="M30 33 L30 41"/>
</g></g>
<!-- upper skin strip -->
<path d="M384 240 L401 325 L384 330 C378 360 380 390 378 410 C382 430 395 442 410 448 C420.0 449.3 451.7 454.5 470.0 456.0 C488.3 457.5 507.5 457.8 520.0 457.0 C532.5 456.2 536.7 453.5 545.0 451.0 C553.3 448.5 561.7 445.5 570.0 442.0 C578.3 438.5 587.0 433.7 595.0 430.0 C603.0 426.3 610.5 422.1 618.0 420.0 C625.5 417.9 632.2 417.6 640.0 417.5 C647.8 417.4 657.3 418.1 665.0 419.5 C672.7 420.9 682.5 424.9 686.0 426.0" fill="none" stroke="#e4a29e" stroke-width="5.5"/>
<path d="M384 240 L401 325 L384 330 C378 360 380 390 378 410 C382 430 395 442 410 448 C420.0 449.3 451.7 454.5 470.0 456.0 C488.3 457.5 507.5 457.8 520.0 457.0 C532.5 456.2 536.7 453.5 545.0 451.0 C553.3 448.5 561.7 445.5 570.0 442.0 C578.3 438.5 587.0 433.7 595.0 430.0 C603.0 426.3 610.5 422.1 618.0 420.0 C625.5 417.9 632.2 417.6 640.0 417.5 C647.8 417.4 657.3 418.1 665.0 419.5 C672.7 420.9 682.5 424.9 686.0 426.0" fill="none" stroke="#fff" stroke-width="2"/>
<!-- lower yellow fat region -->
<path d="M394 533 C430 532 460 530 490 526 C515 521 535 516 548 513 C565 514 585 513 600 511 C620 509 640 508 652 508 C645 509 640 509 636 510 C625 512 612 517 601 522 C590 527 584 530 578 534 C570 540 566 545 562 550 C555 556 546 561 539 566 C530 574 525 580 520 585 C512 596 508 604 506 611 C502 625 499 640 497 655 C480 659 460 659 443 659 L443 636 C443 630 438 626 430 626 L410 629 L403 620 L405 580 L391 559 Z" fill="url(#yelG2)"/>
<!-- white streaks lower -->
<g stroke-linecap="round" fill="none">
<path d="M422 551 C440 550 460 548 477 544" stroke="#c9dde9" stroke-width="6.5"/>
<path d="M422 551 C440 550 460 548 477 544" stroke="#f4f9fc" stroke-width="4"/>
<path d="M505 533 C515 531 525 528 532 524" stroke="#d8e4ec" stroke-width="5.5"/>
<path d="M505 533 C515 531 525 528 532 524" stroke="#f2f8fc" stroke-width="3"/>
</g>
<g transform="translate(436 556) scale(1.05)"><g fill="none" stroke="#f3ac1e" stroke-width="1.7" stroke-linecap="round">
<path d="M3 5 Q13 19 23 5"/><path d="M21 2 L23 5 L28 9"/>
<path d="M14 13 Q22 23 31 15"/><path d="M29 12 L31 15 L34 14"/>
<path d="M3 23 Q12 36 24 25"/><path d="M22 22 L24 25 L27 27"/>
<path d="M12 33 Q22 42 32 31"/><path d="M14 35 L13 44"/><path d="M30 33 L30 41"/>
</g></g><g transform="translate(483 542) scale(0.68)"><g fill="none" stroke="#f3ac1e" stroke-width="1.7" stroke-linecap="round">
<path d="M3 5 Q13 19 23 5"/><path d="M21 2 L23 5 L28 9"/>
<path d="M14 13 Q22 23 31 15"/><path d="M29 12 L31 15 L34 14"/>
<path d="M3 23 Q12 36 24 25"/><path d="M22 22 L24 25 L27 27"/>
<path d="M12 33 Q22 42 32 31"/><path d="M14 35 L13 44"/><path d="M30 33 L30 41"/>
</g></g><g transform="translate(529 523) scale(0.92)"><g fill="none" stroke="#f3ac1e" stroke-width="1.7" stroke-linecap="round">
<path d="M3 5 Q13 19 23 5"/><path d="M21 2 L23 5 L28 9"/>
<path d="M14 13 Q22 23 31 15"/><path d="M29 12 L31 15 L34 14"/>
<path d="M3 23 Q12 36 24 25"/><path d="M22 22 L24 25 L27 27"/>
<path d="M12 33 Q22 42 32 31"/><path d="M14 35 L13 44"/><path d="M30 33 L30 41"/>
</g></g>
<!-- lower skin strip -->
<path d="M690 478 C670 475 655 472 640 472 C620 474 600 482 580 490 C560 500 540 510 520 519 C500 526 480 528 460 529 C440 530 420 530 403 530 C396 532 392 540 391 559 L405 580 L403 620 L410 629 L428 627" fill="none" stroke="#e4a29e" stroke-width="5.5"/>
<path d="M690 478 C670 475 655 472 640 472 C620 474 600 482 580 490 C560 500 540 510 520 519 C500 526 480 528 460 529 C440 530 420 530 403 530 C396 532 392 540 391 559 L405 580 L403 620 L410 629 L428 627" fill="none" stroke="#fff" stroke-width="2"/>
<path d="M690 481.5 C670 478.5 655 475.5 640 475.5 C620 477.5 600 485.5 580 493.5 C560 503.5 545 511 530 517" fill="none" stroke="#f5cc40" stroke-width="3"/>

<!-- auditory canal -->
<path d="M405 449 L410 448 C420.0 449.3 451.7 454.5 470.0 456.0 C488.3 457.5 507.5 457.8 520.0 457.0 C532.5 456.2 536.7 453.5 545.0 451.0 C553.3 448.5 561.7 445.5 570.0 442.0 C578.3 438.5 587.0 433.7 595.0 430.0 C603.0 426.3 610.5 422.1 618.0 420.0 C625.5 417.9 632.2 417.6 640.0 417.5 C647.8 417.4 657.3 418.1 665.0 419.5 C672.7 420.9 682.5 424.9 686.0 426.0 L700 430 L702 482 L690 478 C670 475 655 472 640 472 C620 474 600 482 580 490 C560 500 540 510 520 519 C500 526 480 528 460 529 C440 530 420 530 403 528 C396 515 393 495 394 478 C395 462 398 454 405 449 Z" fill="url(#canalG)"/>
<!-- eustachian tube -->
<path d="M765 450 C785 465 805 482 820 495 C832 505 842 511 850 517 C862 527 874 536 885 542 C895 550 903 556 910 560 C916 562 920 563 923 565 C929 568 933 575 934 588 C934 598 930 604 925 606 C918 610 912 611 908 610 C904 609 902 607 900 605 C893 600 888 595 885 590 C873 578 860 566 850 555 C838 544 828 532 820 520 C812 510 806 502 800 497 C790 493 778 492 768 492 Z" fill="url(#tubeG)"/>
<g fill="none">
<path d="M820 496 C832 506 842 512 850 518 C862 528 874 537 885 543 C895 551 903 557 910 561 C915 563 919 564 922 566" stroke="#e08a88" stroke-width="4"/>
<path d="M820 496 C832 506 842 512 850 518 C862 528 874 537 885 543 C895 551 903 557 910 561 C915 563 919 564 922 566" stroke="#fff" stroke-width="1.6"/>
<path d="M801 498 C807 503 813 511 820 521 C828 533 838 545 850 556 C860 567 873 579 885 591 C889 596 894 601 900 605" stroke="#e08a88" stroke-width="4"/>
<path d="M801 498 C807 503 813 511 820 521 C828 533 838 545 850 556 C860 567 873 579 885 591 C889 596 894 601 900 605" stroke="#fff" stroke-width="1.6"/>
</g>
<path d="M924 567 C930 571 933 578 933.5 588 C933.5 597 930 603 925 605.5 C919 609 913 610 908 609" fill="none" stroke="#e0404e" stroke-width="5.5"/>
<!-- middle ear cavity -->
<path d="M672 383 C674 380 677 380 678 377 C680 372 682 368 683 366 C684 362 685 360 687 359 C690 357 693 356 695 356.5 C699 357 701 359 703 360 C706 361 709 362 711.5 363 C713 360 714 358 715 358 C718 359 720 360 722 362 C726 365 729 367 732 370 C735 374 737 377 738 380 C748 395 756 410 760 425 C764 440 766 455 768 470 C772 480 780 490 794 497 L760 499 L746 496 C742 480 735 460 725 445 C715 432 705 426 697 423 C694 416 692 410 689 405 C686 400 683 397 680 394 C677 391 674 389 672 383 Z" fill="#d8404a"/>
<!-- skin line under membrane continuing to tube -->
<path d="M688 478 C700 487 712 493 725 495 C740 497 752 496.5 763 494.5 C772 493 782 493 792 495 C798 497 801 499 804 502" fill="none" stroke="#f0c040" stroke-width="2" transform="translate(0 3)"/>
<path d="M688 478 C700 487 712 493 725 495 C740 497 752 496.5 763 494.5 C772 493 782 493 792 495 C798 497 801 499 804 502" fill="none" stroke="#e4a29e" stroke-width="4.5"/>
<path d="M688 478 C700 487 712 493 725 495 C740 497 752 496.5 763 494.5 C772 493 782 493 792 495 C798 497 801 499 804 502" fill="none" stroke="#fff" stroke-width="1.6"/>
<!-- tympanic membrane -->
<path d="M687 428 C690 426 694 425 698 425 C705 426 710 428 715 431.7 C720 435 724 439 728 443 C732 447 735 451 738 456.7 C741 463 744 470 745 476.7 C746 482 747 487 746.7 491.7 C742 493 736 493.5 731.7 493 C722 491 714 487 706.7 483 C702 480 698 477 695 473 C692 468 690 462 688 456.7 C686 450 685 445 685 440 C685 435 686 431 687 428 Z" fill="url(#tmG)" stroke="#3a6d9a" stroke-width="1.5"/>
<g stroke="#ffffff" stroke-width="0.9" opacity="0.55" fill="none">
<path d="M723 453 L692 432"/><path d="M723 453 L690 447"/><path d="M723 453 L694 466"/><path d="M723 453 L708 481"/><path d="M723 453 L725 489"/><path d="M723 453 L740 484"/><path d="M723 453 L740 466"/>
</g>
<!-- malleus handle -->
<path d="M700 396 C708 394 716 398 719 406 C721 414 720 422 716 430 L704 427 C702 418 700 408 700 396 Z" fill="#f5c95a"/>
<path d="M713 395 C718 400 720 410 718 426" fill="none" stroke="#9a6a3a" stroke-width="1.2"/>
<!-- malleus head -->
<radialGradient id="malG" cx="0.35" cy="0.35" r="0.7"><stop offset="0" stop-color="#ffffff"/><stop offset="0.5" stop-color="#fdf0c4"/><stop offset="1" stop-color="#f5d070"/></radialGradient>
<circle cx="703" cy="390" r="12" fill="url(#malG)"/>
<!-- incus -->
<linearGradient id="incG" x1="0" x2="0" y1="0" y2="1"><stop offset="0" stop-color="#fbd870"/><stop offset="0.5" stop-color="#f2a426"/><stop offset="1" stop-color="#f5b640"/></linearGradient>
<path d="M718 386 C726 384 732 390 735 400 C738 412 738 424 735 434 C729 430 724 420 721 410 C719 402 717 394 718 386 Z" fill="url(#incG)"/>
<path d="M716 386 C722 384 726 392 724 402 C722 412 722 420 726 430" fill="none" stroke="#8b5a2b" stroke-width="1.4"/>
<!-- blue paths in middle ear -->
<g fill="none" stroke="#1aa0a8" stroke-width="3.2" opacity="0.7">
<path d="M715 397 C710 402 707 410 707 418 C707 422 707 425 707 427"/>
<path d="M732 397 C735 405 737 415 739 428 C741 436 744 443 749 446 C754 447 760 446 770 441 C778 437 786 432 792 428"/>
</g>
<g fill="none" stroke="#1a6fc0" stroke-width="2">
<path d="M715 397 C710 402 707 410 707 418 C707 422 707 425 707 427"/>
<path d="M732 397 C735 405 737 415 739 428 C741 436 744 443 749 446 C754 447 760 446 770 441 C778 437 786 432 792 428"/>
</g>
<path d="M716 391 L710 399 L718 400 Z" fill="#1a6fc0"/>
<path d="M795 426 L786 427 L790 434 Z" fill="#1a6fc0"/>
<!-- dark sheath bands around nerves -->
<path d="M835 362 C850 345 870 330 900 324 C920 321 945 322 965 330 L975 340 C960 334 935 330 910 333 C885 338 865 348 845 362 Z" fill="#9a8b70"/>
<path d="M812 402 C830 394 852 380 868 367 C882 356 897 346 925 343 C945 343 965 347 982 353 L982 360 C950 354 925 354 905 362 C885 372 868 390 852 404 C842 412 830 414 815 412 Z" fill="#8f8169"/>

<!-- gray-brown labyrinth background -->
<path d="M730 370 C730 355 732 345 734 337 C738 325 745 316 750 312 C760 305 768 302 775 302 C785 301 793 302 800 305 C808 309 813 314 817 320 C821 327 823 332 823 337 C823 350 821 362 818 370 C816 378 814 383 812 387 L760 390 Z" fill="#b7a98f"/>
<g stroke="#a6977c" stroke-width="1" fill="none" opacity="0.7"><path d="M745 320 L752 330 M760 310 L764 322 M790 305 L788 316 M806 312 L800 322 M738 340 L746 346 M815 340 L808 344"/></g>

<!-- vestibule body -->
<linearGradient id="vesG" x1="0" x2="0" y1="0" y2="1"><stop offset="0" stop-color="#fad9a0"/><stop offset="0.55" stop-color="#f5c676"/><stop offset="1" stop-color="#eeae4c"/></linearGradient>
<path d="M752 378 C760 372 775 370 790 372 C805 374 814 380 818 390 C822 402 830 410 842 416 C850 430 852 450 848 470 C846 482 850 490 858 494 C840 494 822 488 806 478 C792 470 778 458 768 446 C762 438 758 430 756 420 C752 410 750 398 750 390 C750 385 750 381 752 378 Z" fill="url(#vesG)"/>

<!-- semicircular canals -->
<g fill="none" stroke-linecap="butt">
<path d="M754 382 C752 360 756 338 768 326 C780 316 796 316 806 326 C814 336 815 355 813 372 C812 380 810 386 808 390" stroke="#9a6028" stroke-width="10"/>
<path d="M754 382 C752 360 756 338 768 326 C780 316 796 316 806 326 C814 336 815 355 813 372 C812 380 810 386 808 390" stroke="#fff8e6" stroke-width="6.5"/>
</g>
<path d="M760 378 C758 360 762 344 772 334 C782 326 796 328 802 338 C808 348 808 364 806 380 Z" fill="#b2a389"/>
<g fill="none">
<path d="M765 372 C764 358 768 346 776 340 C784 334 794 336 798 344 C802 352 802 362 801 372" stroke="#9a6028" stroke-width="8"/>
<path d="M765 372 C764 358 768 346 776 340 C784 334 794 336 798 344 C802 352 802 362 801 372" stroke="#fff8e6" stroke-width="5"/>
</g>
<path d="M771 372 C770 362 773 352 780 348 C787 346 793 350 795 358 C796 364 796 370 795 376 Z" fill="#b2a389"/>
<path d="M770 376 C770 364 774 356 781 354 C788 353 793 358 794 366" fill="none" stroke="#9a6028" stroke-width="1.2"/>
<!-- lateral canal + ampulla -->
<g fill="none">
<path d="M768 396 C758 388 744 386 738 392 C734 398 740 406 752 408 C758 409 764 408 768 406" stroke="#9a6028" stroke-width="8"/>
<path d="M768 396 C758 388 744 386 738 392 C734 398 740 406 752 408 C758 409 764 408 768 406" stroke="#fff0d0" stroke-width="5"/>
</g>
<ellipse cx="768" cy="409" rx="9" ry="7" fill="#fbe0a8" stroke="#9a6028" stroke-width="1.3"/>
<path d="M808 386 C812 395 814 402 812 410" fill="none" stroke="#9a6028" stroke-width="1.2"/>

<ellipse cx="784" cy="452" rx="8" ry="5" fill="#f0a040" stroke="#8b5a2b" stroke-width="1" transform="rotate(25 784 452)"/>
<path d="M778 449 C782 452 787 455 792 456" fill="none" stroke="#1aa0a8" stroke-width="1.6"/>
<!-- stapes (moved) -->
<path d="M762 436 C765 429 772 423 782 420 C788 418 794 417 799 418 L800 424 C796 427 790 430 783 433 C775 436 768 438 762 436 Z" fill="#f0a040" stroke="#8b5a2b" stroke-width="1.2"/>
<path d="M770 432 C775 427 783 423 793 421 C788 426 780 430 770 432 Z" fill="#fff6e6"/>
<path d="M766 434 C772 430 780 426 790 423" fill="none" stroke="#fff" stroke-width="1.3"/>
<path d="M797 417 L801 416 L802 426 L798 427 Z" fill="#f5c060" stroke="#8b5a2b" stroke-width="1"/>
<!-- vestibular nerve -->
<path d="M810 392 C820 382 834 366 846 356 C860 346 870 342 880 340 C895 336 905 333 915 332 C935 330 958 333 982 344 L982 357 C965 351 945 347 925 346 C905 346 895 352 885 360 C870 372 850 388 832 398 C824 402 814 402 810 392 Z" fill="#f2bb48" stroke="#a86e18" stroke-width="1.3"/>
<path d="M846 358 C858 350 872 346 884 348 C876 358 862 366 848 374 C838 374 836 364 846 358 Z" fill="#f8d070"/>
<path d="M900 338 C930 335 960 340 980 350" fill="none" stroke="#a86e18" stroke-width="1"/>
<g stroke="#fff" stroke-width="1.8" opacity="0.85"><path d="M812 390 L828 382"/><path d="M814 396 L832 388"/><path d="M818 402 L834 394"/></g>
<!-- cochlear nerve -->
<path d="M862 404 C872 388 885 372 900 362 C915 354 935 350 955 352 C968 353 976 355 982 358 L982 378 C970 372 955 368 940 370 C925 372 912 378 905 388 C900 398 900 410 902 420 L880 420 C872 416 866 410 862 404 Z" fill="#f3c45a" stroke="#a86e18" stroke-width="1.3"/>
<path d="M905 388 C912 378 925 372 940 370 C955 368 970 372 982 378" fill="none" stroke="#fbe3a0" stroke-width="3"/>

<!-- cochlea -->
<circle cx="865" cy="449" r="45.5" fill="#a06a28"/>
<circle cx="862" cy="446" r="44" fill="url(#cochG)"/>
<g transform="translate(0 6)">
<path d="M862 440 C866 436 872 440 870 446 C867 453 856 452 853 444 C849 434 860 426 870 428 C882 431 886 446 880 456 C872 468 852 467 844 455 C834 440 842 420 860 416 C880 412 896 428 895 448 C894 470 872 484 850 480 C826 475 814 452 820 432 C826 410 848 398 870 400 C892 403 908 422 906 446" fill="none" stroke="#a8742c" stroke-width="1.8"/>
<g fill="none" stroke="#1a6fc0" stroke-width="2.4">
<path d="M836 406 C850 398 872 397 888 408 C904 420 910 444 902 464 C892 484 868 490 846 484"/>
<path d="M850 424 C862 416 878 422 884 436 C890 452 880 468 860 472"/>
</g>
<path d="M834 406 L843 398 L844 409 Z" fill="#1a6fc0"/>
<path d="M886 432 L882 422 L891 426 Z" fill="#1a6fc0"/>
</g>
<path d="M796 450 C810 474 832 488 856 494 C880 498 900 488 907 474" fill="none" stroke="#1a6fc0" stroke-width="2.4"/>
<path d="M770 450 C785 466 806 482 832 490" fill="none" stroke="#1aa0a8" stroke-width="2"/>

<!-- red auditory fibers & arrow -->
<g fill="none" stroke="#e41e1e" stroke-width="2.6" stroke-linecap="round">
<path d="M856 425 C872 400 890 378 912 366 C935 356 960 358 1008 364" stroke-width="3.4"/>
<path d="M870 435 C880 410 895 385 912 370"/>
<path d="M888 440 C892 415 900 392 912 372"/>
<path d="M842 420 C860 400 885 380 905 368"/>
</g>
<path d="M1021 364 L1004 356 L1006 372 Z" fill="#e41e1e"/>
<!-- sound wave -->
<path d="M107 470 C123.0 470.0 129.0 492.0 145 492 C161.4 492.0 167.6 470.5 184 470.5 C199.1 470.5 204.9 493.0 220 493 C235.8 493.0 241.8 471.0 257.5 471 C273.7 471.0 279.8 494.0 296 494 C312.8 494.0 319.2 474.0 336 474 C352.8 474.0 359.2 496.0 376 496 C389.4 496.0 394.6 480.0 408 480 C423.1 480.0 428.9 506.0 444 506 C457.4 506.0 462.6 484.0 476 484 C489.4 484.0 494.6 500.0 508 500 C521.4 500.0 526.6 470.0 540 470 C551.8 470.0 556.2 482.0 568 482 C578.1 482.0 581.9 452.0 592 452 C607.1 452.0 612.9 464.0 628 464 C639.8 464.0 644.2 438.0 656 438 C669.4 438.0 674.6 460.0 688 460 C696 461 702 459 708 457" fill="none" stroke="url(#waveG)" stroke-width="4.5" stroke-linecap="round"/>
<path d="M720 455 L704 446 L706 464 Z" fill="#1767b4"/>

<!-- brackets -->
<g fill="none" stroke="#aaa" stroke-width="2" stroke-linejoin="round">
<path d="M259.5 186 L259.5 177 Q259.5 175 261.5 175 L667 175 Q669 175 669 177 L669 186"/>
<path d="M676.7 186 L676.7 177 Q676.7 175 678.7 175 L738 175 Q740 175 740 177 L740 186"/>
<path d="M747.9 186 L747.9 177 Q747.9 175 749.9 175 L929.3 175 Q931.3 175 931.3 177 L931.3 186"/>
</g>
<!-- pointer lines -->
<g stroke="#6c6c6c" stroke-width="2" fill="none">
<path d="M697.7 315 L697.7 380"/>
<path d="M725.7 277 L725.7 382"/>
<path d="M744.6 240 L744.6 393 L765 434"/>
<path d="M768 259 L768 410"/>
<path d="M910 262 L910 334"/>
<path d="M958 368 L958 424"/>
<path d="M898.8 472 L898.8 515"/>
<path d="M797.8 421 L797.8 550"/>
<path d="M779.6 459 L779.6 648"/>
<path d="M887.5 580 L887.5 648"/>
<path d="M715.6 476 L715.6 648"/>
<path d="M476 515 L476 647"/>
</g>
<g fill="#222">
<circle cx="697.7" cy="380" r="2.6"/><circle cx="725.7" cy="382" r="2.6"/><circle cx="765" cy="434" r="2.6"/>
<circle cx="768" cy="347" r="2.4"/><circle cx="768" cy="379.7" r="2.4"/><circle cx="768" cy="410" r="2.6"/>
<circle cx="910" cy="334" r="2.6"/><circle cx="958" cy="368" r="2.6"/><circle cx="898.8" cy="472" r="2.6"/>
<circle cx="797.8" cy="421" r="2.6"/><circle cx="779.6" cy="459" r="2.6"/><circle cx="887.5" cy="580" r="2.6"/>
<circle cx="715.6" cy="476" r="2.6"/><circle cx="476" cy="515" r="2.6"/>
</g>
<!-- labels -->
<g class="lb">
<text x="434.5" y="146">Outer</text><text x="449.5" y="167">ear</text>
<text x="676" y="146">Middle</text><text x="693.5" y="167">ear</text>
<text x="815" y="146">Inner</text><text x="823.5" y="167">ear</text>
<text x="683.5" y="230">Stapes</text>
<text x="766" y="230">Semicircular</text><text x="766" y="251.5">canals</text>
<text x="903.5" y="232">Vestibular</text><text x="903.5" y="254">nerve</text>
<text x="680" y="270">Incus</text>
<text x="631" y="307.5">Malleus</text>
<text x="166" y="434">Sound</text><text x="166.5" y="456">waves</text>
<text x="951" y="446.5">Auditory</text><text x="951" y="468">nerve</text>
<text x="892.5" y="539">Cochlea</text>
<text x="790" y="575">Oval</text><text x="790" y="596">window</text>
<text x="469.5" y="670">Auditory</text><text x="469.5" y="691">canal</text>
<text x="720" y="670" text-anchor="end">Tympanic</text><text x="720" y="691" text-anchor="end">membrane</text>
<text x="773" y="670">Round</text><text x="773" y="692">window</text>
<text x="880" y="670">Eustachian</text><text x="880" y="692">tube</text>
<text x="1000" y="350.5" style="font-size:23px">to brain</text>
</g>

</svg>
<div id="txt">
<p>Did you know... that your ear houses the smallest bone in your body?</p>
<p>Hearing is complex. While the perception of sound could be considered a passive process, it is the brain that gives meaning to what is heard.<br>
You could say that the ears and the brain are equal partners [1]. Our ears have the functionality to convert sounds (which are physical<br>
vibrations) into a signal that can be interpreted by our brains. The outer ear captures the sounds from the environment and from there, sound<br>
waves travel through the ear canal to the middle ear. The sound waves set the eardrum (which is also called the tympanic membrane) into<br>
vibrations. Behind the eardrum are <b>the 3 smallest bones in the human body</b> - hammer, anvil, and stapes. The vibrations of sound are amplified<br>
and transmitted with the help of those bones to the inner ear. These vibrations set the fluid in the inner ear into motion. Inside the cochlea,</p>
</div>
</body></html>
